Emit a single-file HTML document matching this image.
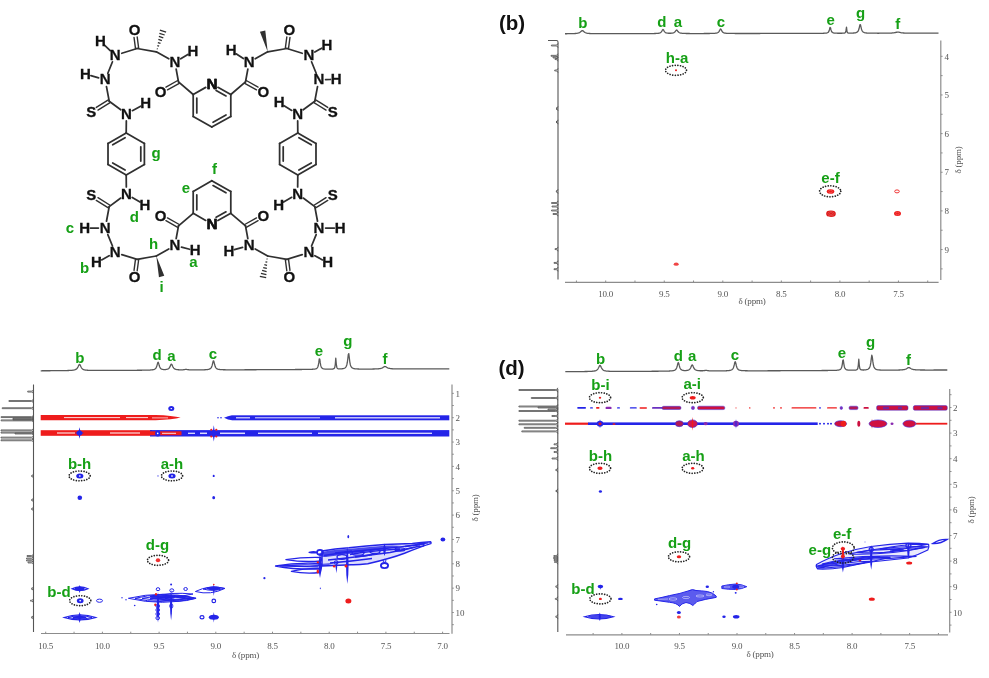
<!DOCTYPE html>
<html><head><meta charset="utf-8"><style>
html,body{margin:0;padding:0;background:#fff;}
svg{display:block;}
</style></head><body>
<svg width="989" height="678" viewBox="0 0 989 678">
<rect width="989" height="678" fill="#fff"/>
<g style="filter:blur(0.3px)">
<g stroke-linecap="round">
<line x1="126.2" y1="132.9" x2="144.39" y2="143.4" stroke="#303030" stroke-width="1.75" />
<line x1="144.39" y1="143.4" x2="144.39" y2="164.4" stroke="#303030" stroke-width="1.75" />
<line x1="140.79" y1="146.76" x2="140.79" y2="161.04" stroke="#303030" stroke-width="1.75" />
<line x1="144.39" y1="164.4" x2="126.2" y2="174.9" stroke="#303030" stroke-width="1.75" />
<line x1="126.2" y1="174.9" x2="108.01" y2="164.4" stroke="#303030" stroke-width="1.75" />
<line x1="125.09" y1="170.1" x2="112.72" y2="162.96" stroke="#303030" stroke-width="1.75" />
<line x1="108.01" y1="164.4" x2="108.01" y2="143.4" stroke="#303030" stroke-width="1.75" />
<line x1="108.01" y1="143.4" x2="126.2" y2="132.9" stroke="#303030" stroke-width="1.75" />
<line x1="112.72" y1="144.84" x2="125.09" y2="137.7" stroke="#303030" stroke-width="1.75" />
<line x1="297.8" y1="132.9" x2="315.99" y2="143.4" stroke="#303030" stroke-width="1.75" />
<line x1="298.91" y1="137.7" x2="311.28" y2="144.84" stroke="#303030" stroke-width="1.75" />
<line x1="315.99" y1="143.4" x2="315.99" y2="164.4" stroke="#303030" stroke-width="1.75" />
<line x1="315.99" y1="164.4" x2="297.8" y2="174.9" stroke="#303030" stroke-width="1.75" />
<line x1="311.28" y1="162.96" x2="298.91" y2="170.1" stroke="#303030" stroke-width="1.75" />
<line x1="297.8" y1="174.9" x2="279.61" y2="164.4" stroke="#303030" stroke-width="1.75" />
<line x1="279.61" y1="164.4" x2="279.61" y2="143.4" stroke="#303030" stroke-width="1.75" />
<line x1="283.21" y1="161.04" x2="283.21" y2="146.76" stroke="#303030" stroke-width="1.75" />
<line x1="279.61" y1="143.4" x2="297.8" y2="132.9" stroke="#303030" stroke-width="1.75" />
<line x1="217.91" y1="87.31" x2="230.8" y2="94.5" stroke="#303030" stroke-width="1.75" />
<line x1="216.13" y1="90.44" x2="226.01" y2="95.95" stroke="#303030" stroke-width="1.75" />
<line x1="230.8" y1="94.5" x2="230.8" y2="116.4" stroke="#303030" stroke-width="1.75" />
<line x1="230.8" y1="116.4" x2="211.8" y2="127.1" stroke="#303030" stroke-width="1.75" />
<line x1="225.99" y1="114.98" x2="213.07" y2="122.25" stroke="#303030" stroke-width="1.75" />
<line x1="211.8" y1="127.1" x2="193.2" y2="116.4" stroke="#303030" stroke-width="1.75" />
<line x1="193.2" y1="116.4" x2="193.2" y2="94.5" stroke="#303030" stroke-width="1.75" />
<line x1="196.8" y1="112.9" x2="196.8" y2="98" stroke="#303030" stroke-width="1.75" />
<line x1="193.2" y1="94.5" x2="205.72" y2="87.37" stroke="#303030" stroke-width="1.75" />
<line x1="211.8" y1="180.7" x2="230.8" y2="191.4" stroke="#303030" stroke-width="1.75" />
<line x1="213.07" y1="185.55" x2="225.99" y2="192.82" stroke="#303030" stroke-width="1.75" />
<line x1="230.8" y1="191.4" x2="230.8" y2="213.3" stroke="#303030" stroke-width="1.75" />
<line x1="230.8" y1="213.3" x2="217.91" y2="220.49" stroke="#303030" stroke-width="1.75" />
<line x1="226.01" y1="211.85" x2="216.13" y2="217.36" stroke="#303030" stroke-width="1.75" />
<line x1="205.72" y1="220.43" x2="193.2" y2="213.3" stroke="#303030" stroke-width="1.75" />
<line x1="193.2" y1="213.3" x2="193.2" y2="191.4" stroke="#303030" stroke-width="1.75" />
<line x1="196.8" y1="209.8" x2="196.8" y2="194.9" stroke="#303030" stroke-width="1.75" />
<line x1="193.2" y1="191.4" x2="211.8" y2="180.7" stroke="#303030" stroke-width="1.75" />
<line x1="134.03" y1="37.45" x2="135.51" y2="48.71" stroke="#303030" stroke-width="1.4" />
<line x1="137.2" y1="37.03" x2="138.69" y2="48.29" stroke="#303030" stroke-width="1.4" />
<line x1="137.1" y1="48.5" x2="121.79" y2="53.23" stroke="#303030" stroke-width="1.75" />
<line x1="112.47" y1="61.79" x2="107.83" y2="73.21" stroke="#303030" stroke-width="1.75" />
<line x1="106.48" y1="86.58" x2="109.2" y2="101.2" stroke="#303030" stroke-width="1.75" />
<line x1="108.35" y1="99.84" x2="96.28" y2="107.42" stroke="#303030" stroke-width="1.4" />
<line x1="110.05" y1="102.56" x2="97.98" y2="110.13" stroke="#303030" stroke-width="1.4" />
<line x1="109.2" y1="101.2" x2="120.77" y2="109.74" stroke="#303030" stroke-width="1.75" />
<line x1="137.1" y1="48.5" x2="156.3" y2="51.8" stroke="#303030" stroke-width="1.75" />
<line x1="156.3" y1="51.8" x2="168.8" y2="58.86" stroke="#303030" stroke-width="1.75" />
<line x1="176.16" y1="69.18" x2="178.5" y2="81.9" stroke="#303030" stroke-width="1.75" />
<line x1="177.72" y1="80.5" x2="165.93" y2="87.09" stroke="#303030" stroke-width="1.4" />
<line x1="179.28" y1="83.3" x2="167.49" y2="89.88" stroke="#303030" stroke-width="1.4" />
<line x1="178.5" y1="81.9" x2="193.2" y2="94.5" stroke="#303030" stroke-width="1.75" />
<line x1="286.8" y1="37.03" x2="285.31" y2="48.29" stroke="#303030" stroke-width="1.4" />
<line x1="289.97" y1="37.45" x2="288.49" y2="48.71" stroke="#303030" stroke-width="1.4" />
<line x1="286.9" y1="48.5" x2="302.21" y2="53.23" stroke="#303030" stroke-width="1.75" />
<line x1="311.53" y1="61.79" x2="316.17" y2="73.21" stroke="#303030" stroke-width="1.75" />
<line x1="317.52" y1="86.58" x2="314.8" y2="101.2" stroke="#303030" stroke-width="1.75" />
<line x1="313.95" y1="102.56" x2="326.02" y2="110.13" stroke="#303030" stroke-width="1.4" />
<line x1="315.65" y1="99.84" x2="327.72" y2="107.42" stroke="#303030" stroke-width="1.4" />
<line x1="314.8" y1="101.2" x2="303.23" y2="109.74" stroke="#303030" stroke-width="1.75" />
<line x1="286.9" y1="48.5" x2="267.7" y2="51.8" stroke="#303030" stroke-width="1.75" />
<line x1="267.7" y1="51.8" x2="255.2" y2="58.86" stroke="#303030" stroke-width="1.75" />
<line x1="247.84" y1="69.18" x2="245.5" y2="81.9" stroke="#303030" stroke-width="1.75" />
<line x1="244.72" y1="83.3" x2="256.51" y2="89.88" stroke="#303030" stroke-width="1.4" />
<line x1="246.28" y1="80.5" x2="258.07" y2="87.09" stroke="#303030" stroke-width="1.4" />
<line x1="245.5" y1="81.9" x2="230.8" y2="94.5" stroke="#303030" stroke-width="1.75" />
<line x1="137.2" y1="270.77" x2="138.69" y2="259.51" stroke="#303030" stroke-width="1.4" />
<line x1="134.03" y1="270.35" x2="135.51" y2="259.09" stroke="#303030" stroke-width="1.4" />
<line x1="137.1" y1="259.3" x2="121.79" y2="254.57" stroke="#303030" stroke-width="1.75" />
<line x1="112.47" y1="246.01" x2="107.83" y2="234.59" stroke="#303030" stroke-width="1.75" />
<line x1="106.48" y1="221.22" x2="109.2" y2="206.6" stroke="#303030" stroke-width="1.75" />
<line x1="110.05" y1="205.24" x2="97.98" y2="197.67" stroke="#303030" stroke-width="1.4" />
<line x1="108.35" y1="207.96" x2="96.28" y2="200.38" stroke="#303030" stroke-width="1.4" />
<line x1="109.2" y1="206.6" x2="120.77" y2="198.06" stroke="#303030" stroke-width="1.75" />
<line x1="137.1" y1="259.3" x2="156.3" y2="256" stroke="#303030" stroke-width="1.75" />
<line x1="156.3" y1="256" x2="168.8" y2="248.94" stroke="#303030" stroke-width="1.75" />
<line x1="176.16" y1="238.62" x2="178.5" y2="225.9" stroke="#303030" stroke-width="1.75" />
<line x1="179.28" y1="224.5" x2="167.49" y2="217.92" stroke="#303030" stroke-width="1.4" />
<line x1="177.72" y1="227.3" x2="165.93" y2="220.71" stroke="#303030" stroke-width="1.4" />
<line x1="178.5" y1="225.9" x2="193.2" y2="213.3" stroke="#303030" stroke-width="1.75" />
<line x1="289.97" y1="270.35" x2="288.49" y2="259.09" stroke="#303030" stroke-width="1.4" />
<line x1="286.8" y1="270.77" x2="285.31" y2="259.51" stroke="#303030" stroke-width="1.4" />
<line x1="286.9" y1="259.3" x2="302.21" y2="254.57" stroke="#303030" stroke-width="1.75" />
<line x1="311.53" y1="246.01" x2="316.17" y2="234.59" stroke="#303030" stroke-width="1.75" />
<line x1="317.52" y1="221.22" x2="314.8" y2="206.6" stroke="#303030" stroke-width="1.75" />
<line x1="315.65" y1="207.96" x2="327.72" y2="200.38" stroke="#303030" stroke-width="1.4" />
<line x1="313.95" y1="205.24" x2="326.02" y2="197.67" stroke="#303030" stroke-width="1.4" />
<line x1="314.8" y1="206.6" x2="303.23" y2="198.06" stroke="#303030" stroke-width="1.75" />
<line x1="286.9" y1="259.3" x2="267.7" y2="256" stroke="#303030" stroke-width="1.75" />
<line x1="267.7" y1="256" x2="255.2" y2="248.94" stroke="#303030" stroke-width="1.75" />
<line x1="247.84" y1="238.62" x2="245.5" y2="225.9" stroke="#303030" stroke-width="1.75" />
<line x1="246.28" y1="227.3" x2="258.07" y2="220.71" stroke="#303030" stroke-width="1.4" />
<line x1="244.72" y1="224.5" x2="256.51" y2="217.92" stroke="#303030" stroke-width="1.4" />
<line x1="245.5" y1="225.9" x2="230.8" y2="213.3" stroke="#303030" stroke-width="1.75" />
<line x1="126.33" y1="120.9" x2="126.2" y2="132.9" stroke="#303030" stroke-width="1.75" />
<line x1="126.33" y1="186.9" x2="126.2" y2="174.9" stroke="#303030" stroke-width="1.75" />
<line x1="297.67" y1="120.9" x2="297.8" y2="132.9" stroke="#303030" stroke-width="1.75" />
<line x1="297.67" y1="186.9" x2="297.8" y2="174.9" stroke="#303030" stroke-width="1.75" />
<line x1="110.21" y1="50.57" x2="104.47" y2="45.03" stroke="#303030" stroke-width="1.75" />
<line x1="98.66" y1="77.83" x2="90.88" y2="75.6" stroke="#303030" stroke-width="1.75" />
<line x1="132.37" y1="110.65" x2="140.61" y2="106.17" stroke="#303030" stroke-width="1.75" />
<line x1="180.71" y1="58.76" x2="187.85" y2="54.42" stroke="#303030" stroke-width="1.75" />
<line x1="243.39" y1="58.6" x2="236.07" y2="53.85" stroke="#303030" stroke-width="1.75" />
<line x1="314.85" y1="52.01" x2="321.72" y2="48.21" stroke="#303030" stroke-width="1.75" />
<line x1="325.6" y1="79.58" x2="330.4" y2="79.5" stroke="#303030" stroke-width="1.75" />
<line x1="291.77" y1="110.4" x2="284.07" y2="105.78" stroke="#303030" stroke-width="1.75" />
<line x1="109.14" y1="255.77" x2="101.59" y2="259.91" stroke="#303030" stroke-width="1.75" />
<line x1="98.4" y1="228.1" x2="90.4" y2="228.1" stroke="#303030" stroke-width="1.75" />
<line x1="132.23" y1="197.41" x2="140.03" y2="202.11" stroke="#303030" stroke-width="1.75" />
<line x1="181.49" y1="247.19" x2="189.58" y2="249.26" stroke="#303030" stroke-width="1.75" />
<line x1="314.87" y1="255.76" x2="322.51" y2="259.92" stroke="#303030" stroke-width="1.75" />
<line x1="325.6" y1="228.1" x2="334.4" y2="228.1" stroke="#303030" stroke-width="1.75" />
<line x1="291.72" y1="197.31" x2="283.62" y2="201.99" stroke="#303030" stroke-width="1.75" />
<line x1="242.56" y1="247.37" x2="234.38" y2="249.71" stroke="#303030" stroke-width="1.75" />
<line x1="156.82" y1="48.71" x2="157.7" y2="49" stroke="#303030" stroke-width="1.3" stroke-linecap="butt"/>
<line x1="157.33" y1="45.63" x2="159.1" y2="46.2" stroke="#303030" stroke-width="1.3" stroke-linecap="butt"/>
<line x1="157.85" y1="42.54" x2="160.5" y2="43.4" stroke="#303030" stroke-width="1.3" stroke-linecap="butt"/>
<line x1="158.36" y1="39.45" x2="161.89" y2="40.6" stroke="#303030" stroke-width="1.3" stroke-linecap="butt"/>
<line x1="158.88" y1="36.37" x2="163.29" y2="37.8" stroke="#303030" stroke-width="1.3" stroke-linecap="butt"/>
<line x1="159.39" y1="33.28" x2="164.69" y2="35" stroke="#303030" stroke-width="1.3" stroke-linecap="butt"/>
<line x1="159.91" y1="30.19" x2="166.09" y2="32.21" stroke="#303030" stroke-width="1.3" stroke-linecap="butt"/>
<polygon points="267.7,51.8 265.27,30.54 259.93,31.86" fill="#303030"/>
<polygon points="156.3,256 158.94,277.19 164.26,275.81" fill="#303030"/>
<line x1="267.48" y1="259.1" x2="266.58" y2="258.9" stroke="#303030" stroke-width="1.3" stroke-linecap="butt"/>
<line x1="267.26" y1="262.2" x2="265.45" y2="261.8" stroke="#303030" stroke-width="1.3" stroke-linecap="butt"/>
<line x1="267.04" y1="265.3" x2="264.33" y2="264.7" stroke="#303030" stroke-width="1.3" stroke-linecap="butt"/>
<line x1="266.83" y1="268.41" x2="263.2" y2="267.59" stroke="#303030" stroke-width="1.3" stroke-linecap="butt"/>
<line x1="266.61" y1="271.51" x2="262.08" y2="270.49" stroke="#303030" stroke-width="1.3" stroke-linecap="butt"/>
<line x1="266.39" y1="274.61" x2="260.95" y2="273.39" stroke="#303030" stroke-width="1.3" stroke-linecap="butt"/>
<line x1="266.17" y1="277.71" x2="259.83" y2="276.29" stroke="#303030" stroke-width="1.3" stroke-linecap="butt"/>
</g>
<g font-family="Liberation Sans, sans-serif" font-weight="bold" font-size="15" fill="#111" stroke="#111" stroke-width="0.3" text-anchor="middle">
<text x="134.7" y="34.9">O</text>
<text x="289.3" y="34.9">O</text>
<text x="134.7" y="282.1">O</text>
<text x="289.3" y="282.1">O</text>
<text x="115.1" y="59.9">N</text>
<text x="308.9" y="59.9">N</text>
<text x="115.1" y="257.1">N</text>
<text x="308.9" y="257.1">N</text>
<text x="105.2" y="84.3">N</text>
<text x="318.8" y="84.3">N</text>
<text x="105.2" y="232.7">N</text>
<text x="318.8" y="232.7">N</text>
<text x="91.2" y="117.1">S</text>
<text x="332.8" y="117.1">S</text>
<text x="91.2" y="199.9">S</text>
<text x="332.8" y="199.9">S</text>
<text x="126.4" y="118.5">N</text>
<text x="297.6" y="118.5">N</text>
<text x="126.4" y="198.5">N</text>
<text x="297.6" y="198.5">N</text>
<text x="174.9" y="66.9">N</text>
<text x="249.1" y="66.9">N</text>
<text x="174.9" y="250.1">N</text>
<text x="249.1" y="250.1">N</text>
<text x="160.6" y="96.5">O</text>
<text x="263.4" y="96.5">O</text>
<text x="160.6" y="220.5">O</text>
<text x="263.4" y="220.5">O</text>
<text x="211.8" y="88.5">N</text>
<text x="212.2" y="88.5">N</text>
<text x="211.8" y="228.5">N</text>
<text x="212.2" y="228.5">N</text>
<text x="100.3" y="45.6">H</text>
<text x="85.3" y="78.6">H</text>
<text x="145.7" y="108">H</text>
<text x="192.8" y="56">H</text>
<text x="231.2" y="55.3">H</text>
<text x="326.8" y="50">H</text>
<text x="336.2" y="84">H</text>
<text x="279.1" y="107.4">H</text>
<text x="96.5" y="267.3">H</text>
<text x="84.6" y="232.7">H</text>
<text x="145" y="209.7">H</text>
<text x="195.2" y="255.3">H</text>
<text x="327.6" y="267.3">H</text>
<text x="340.2" y="232.7">H</text>
<text x="278.6" y="209.5">H</text>
<text x="228.8" y="255.9">H</text>
</g>
<g font-family="Liberation Sans, sans-serif" font-weight="bold" font-size="15" fill="#16a016" text-anchor="middle">
<text x="156" y="157.6">g</text>
<text x="185.9" y="193.1">e</text>
<text x="214.4" y="173.8">f</text>
<text x="134.3" y="222.3">d</text>
<text x="70" y="233.1">c</text>
<text x="153.5" y="249.1">h</text>
<text x="84.6" y="273">b</text>
<text x="193.5" y="267.4">a</text>
<text x="161.6" y="291.5">i</text>
</g>
<text x="512" y="30" font-family="Liberation Sans, sans-serif" font-weight="bold" font-size="20.5" fill="#111" text-anchor="middle">(b)</text>
<polyline points="565,33.75 565.5,33.74 566,33.74 566.5,33.73 567,33.73 567.5,33.72 568,33.72 568.5,33.71 569,33.71 569.5,33.7 570,33.69 570.5,33.68 571,33.67 571.5,33.66 572,33.65 572.5,33.63 573,33.61 573.5,33.6 574,33.57 574.5,33.55 575,33.51 575.5,33.48 576,33.43 576.5,33.38 577,33.31 577.5,33.22 578,33.11 578.5,32.97 579,32.79 579.5,32.55 580,32.24 580.5,31.86 581,31.4 581.5,30.94 582,30.63 582.5,30.59 583,30.86 583.5,31.3 584,31.76 584.5,32.17 585,32.49 585.5,32.74 586,32.93 586.5,33.07 587,33.19 587.5,33.27 588,33.34 588.5,33.4 589,33.45 589.5,33.48 590,33.51 590.5,33.54 591,33.56 591.5,33.58 592,33.6 592.5,33.61 593,33.62 593.5,33.63 594,33.64 594.5,33.65 595,33.65 595.5,33.66 596,33.67 596.5,33.67 597,33.67 597.5,33.68 598,33.68 598.5,33.68 599,33.69 599.5,33.69 600,33.69 600.5,33.69 601,33.69 601.5,33.7 602,33.7 602.5,33.7 603,33.7 603.5,33.7 604,33.7 604.5,33.7 605,33.7 605.5,33.7 606,33.7 606.5,33.7 607,33.7 607.5,33.7 608,33.7 608.5,33.7 609,33.7 609.5,33.7 610,33.7 610.5,33.7 611,33.7 611.5,33.7 612,33.7 612.5,33.7 613,33.7 613.5,33.7 614,33.7 614.5,33.7 615,33.7 615.5,33.7 616,33.7 616.5,33.7 617,33.7 617.5,33.7 618,33.69 618.5,33.69 619,33.69 619.5,33.69 620,33.69 620.5,33.69 621,33.69 621.5,33.69 622,33.69 622.5,33.69 623,33.69 623.5,33.69 624,33.69 624.5,33.69 625,33.68 625.5,33.68 626,33.68 626.5,33.68 627,33.68 627.5,33.68 628,33.68 628.5,33.68 629,33.68 629.5,33.68 630,33.68 630.5,33.67 631,33.67 631.5,33.67 632,33.67 632.5,33.67 633,33.67 633.5,33.67 634,33.67 634.5,33.67 635,33.66 635.5,33.66 636,33.66 636.5,33.66 637,33.66 637.5,33.66 638,33.66 638.5,33.66 639,33.65 639.5,33.65 640,33.65 640.5,33.65 641,33.65 641.5,33.65 642,33.64 642.5,33.64 643,33.64 643.5,33.64 644,33.64 644.5,33.63 645,33.63 645.5,33.63 646,33.63 646.5,33.62 647,33.62 647.5,33.62 648,33.61 648.5,33.61 649,33.61 649.5,33.6 650,33.6 650.5,33.59 651,33.59 651.5,33.58 652,33.57 652.5,33.56 653,33.56 653.5,33.55 654,33.53 654.5,33.52 655,33.51 655.5,33.49 656,33.46 656.5,33.44 657,33.41 657.5,33.37 658,33.31 658.5,33.25 659,33.16 659.5,33.03 660,32.86 660.5,32.6 661,32.22 661.5,31.64 662,30.81 662.5,29.87 663,29.39 663.5,29.86 664,30.8 664.5,31.62 665,32.19 665.5,32.56 666,32.8 666.5,32.96 667,33.07 667.5,33.15 668,33.2 668.5,33.24 669,33.26 669.5,33.27 670,33.26 670.5,33.25 671,33.23 671.5,33.19 672,33.13 672.5,33.06 673,32.95 673.5,32.79 674,32.56 674.5,32.23 675,31.76 675.5,31.12 676,30.41 676.5,29.98 677,30.18 677.5,30.84 678,31.54 678.5,32.08 679,32.47 679.5,32.74 680,32.93 680.5,33.06 681,33.16 681.5,33.23 682,33.29 682.5,33.33 683,33.37 683.5,33.4 684,33.42 684.5,33.44 685,33.45 685.5,33.47 686,33.48 686.5,33.49 687,33.5 687.5,33.5 688,33.51 688.5,33.51 689,33.52 689.5,33.52 690,33.53 690.5,33.53 691,33.53 691.5,33.53 692,33.53 692.5,33.54 693,33.54 693.5,33.54 694,33.54 694.5,33.54 695,33.54 695.5,33.54 696,33.54 696.5,33.54 697,33.54 697.5,33.54 698,33.54 698.5,33.54 699,33.54 699.5,33.54 700,33.54 700.5,33.54 701,33.53 701.5,33.53 702,33.53 702.5,33.53 703,33.53 703.5,33.53 704,33.52 704.5,33.52 705,33.52 705.5,33.52 706,33.51 706.5,33.51 707,33.51 707.5,33.5 708,33.5 708.5,33.49 709,33.49 709.5,33.48 710,33.47 710.5,33.47 711,33.46 711.5,33.45 712,33.43 712.5,33.42 713,33.4 713.5,33.38 714,33.35 714.5,33.32 715,33.28 715.5,33.22 716,33.16 716.5,33.07 717,32.94 717.5,32.77 718,32.51 718.5,32.13 719,31.55 719.5,30.7 720,29.66 720.5,28.96 721,29.29 721.5,30.28 722,31.24 722.5,31.92 723,32.37 723.5,32.67 724,32.87 724.5,33.01 725,33.11 725.5,33.19 726,33.24 726.5,33.29 727,33.32 727.5,33.35 728,33.37 728.5,33.39 729,33.4 729.5,33.42 730,33.43 730.5,33.44 731,33.44 731.5,33.45 732,33.46 732.5,33.46 733,33.47 733.5,33.47 734,33.47 734.5,33.47 735,33.48 735.5,33.48 736,33.48 736.5,33.48 737,33.48 737.5,33.48 738,33.49 738.5,33.49 739,33.49 739.5,33.49 740,33.49 740.5,33.49 741,33.49 741.5,33.49 742,33.49 742.5,33.49 743,33.49 743.5,33.49 744,33.49 744.5,33.49 745,33.49 745.5,33.49 746,33.49 746.5,33.49 747,33.49 747.5,33.49 748,33.49 748.5,33.49 749,33.49 749.5,33.49 750,33.49 750.5,33.49 751,33.49 751.5,33.49 752,33.48 752.5,33.48 753,33.48 753.5,33.48 754,33.48 754.5,33.48 755,33.48 755.5,33.48 756,33.48 756.5,33.48 757,33.48 757.5,33.48 758,33.48 758.5,33.48 759,33.48 759.5,33.48 760,33.48 760.5,33.47 761,33.47 761.5,33.47 762,33.47 762.5,33.47 763,33.47 763.5,33.47 764,33.47 764.5,33.47 765,33.47 765.5,33.47 766,33.47 766.5,33.47 767,33.47 767.5,33.46 768,33.46 768.5,33.46 769,33.46 769.5,33.46 770,33.46 770.5,33.46 771,33.46 771.5,33.46 772,33.46 772.5,33.46 773,33.46 773.5,33.46 774,33.45 774.5,33.45 775,33.45 775.5,33.45 776,33.45 776.5,33.45 777,33.45 777.5,33.45 778,33.45 778.5,33.45 779,33.45 779.5,33.45 780,33.45 780.5,33.44 781,33.44 781.5,33.44 782,33.44 782.5,33.44 783,33.44 783.5,33.44 784,33.44 784.5,33.44 785,33.44 785.5,33.44 786,33.44 786.5,33.43 787,33.43 787.5,33.43 788,33.43 788.5,33.43 789,33.43 789.5,33.43 790,33.43 790.5,33.43 791,33.43 791.5,33.43 792,33.42 792.5,33.42 793,33.42 793.5,33.42 794,33.42 794.5,33.42 795,33.42 795.5,33.42 796,33.42 796.5,33.42 797,33.42 797.5,33.41 798,33.41 798.5,33.41 799,33.41 799.5,33.41 800,33.41 800.5,33.41 801,33.41 801.5,33.41 802,33.4 802.5,33.4 803,33.4 803.5,33.4 804,33.4 804.5,33.4 805,33.4 805.5,33.4 806,33.4 806.5,33.39 807,33.39 807.5,33.39 808,33.39 808.5,33.39 809,33.39 809.5,33.39 810,33.38 810.5,33.38 811,33.38 811.5,33.38 812,33.38 812.5,33.38 813,33.37 813.5,33.37 814,33.37 814.5,33.37 815,33.37 815.5,33.36 816,33.36 816.5,33.36 817,33.35 817.5,33.35 818,33.35 818.5,33.34 819,33.34 819.5,33.33 820,33.33 820.5,33.32 821,33.32 821.5,33.31 822,33.3 822.5,33.29 823,33.28 823.5,33.26 824,33.24 824.5,33.22 825,33.19 825.5,33.15 826,33.09 826.5,33.02 827,32.91 827.5,32.74 828,32.47 828.5,32 829,31.12 829.5,29.49 830,27.44 830.5,27.77 831,29.89 831.5,31.34 832,32.11 832.5,32.52 833,32.76 833.5,32.91 834,33.01 834.5,33.08 835,33.12 835.5,33.16 836,33.18 836.5,33.2 837,33.22 837.5,33.23 838,33.24 838.5,33.24 839,33.25 839.5,33.25 840,33.25 840.5,33.25 841,33.25 841.5,33.24 842,33.23 842.5,33.22 843,33.21 843.5,33.18 844,33.13 844.5,33.05 845,32.88 845.5,32.4 846,30.4 846.5,27.15 847,31.57 847.5,32.64 848,32.94 848.5,33.05 849,33.1 849.5,33.13 850,33.14 850.5,33.14 851,33.13 851.5,33.12 852,33.11 852.5,33.09 853,33.06 853.5,33.02 854,32.98 854.5,32.93 855,32.85 855.5,32.76 856,32.63 856.5,32.45 857,32.2 857.5,31.82 858,31.25 858.5,30.32 859,28.81 859.5,26.59 860,24.55 860.5,24.84 861,27.08 861.5,29.17 862,30.54 862.5,31.38 863,31.91 863.5,32.25 864,32.49 864.5,32.65 865,32.77 865.5,32.86 866,32.93 866.5,32.98 867,33.03 867.5,33.06 868,33.09 868.5,33.11 869,33.13 869.5,33.14 870,33.16 870.5,33.17 871,33.18 871.5,33.19 872,33.19 872.5,33.2 873,33.2 873.5,33.21 874,33.21 874.5,33.22 875,33.22 875.5,33.22 876,33.22 876.5,33.22 877,33.22 877.5,33.23 878,33.23 878.5,33.23 879,33.23 879.5,33.22 880,33.22 880.5,33.22 881,33.22 881.5,33.22 882,33.22 882.5,33.22 883,33.21 883.5,33.21 884,33.21 884.5,33.2 885,33.2 885.5,33.19 886,33.19 886.5,33.18 887,33.18 887.5,33.17 888,33.16 888.5,33.15 889,33.14 889.5,33.12 890,33.11 890.5,33.09 891,33.06 891.5,33.04 892,33.01 892.5,32.97 893,32.92 893.5,32.87 894,32.8 894.5,32.71 895,32.62 895.5,32.5 896,32.37 896.5,32.25 897,32.13 897.5,32.07 898,32.06 898.5,32.12 899,32.22 899.5,32.34 900,32.47 900.5,32.59 901,32.69 901.5,32.77 902,32.84 902.5,32.9 903,32.95 903.5,32.99 904,33.02 904.5,33.05 905,33.07 905.5,33.09 906,33.1 906.5,33.12 907,33.13 907.5,33.14 908,33.15 908.5,33.15 909,33.16 909.5,33.17 910,33.17 910.5,33.17 911,33.18 911.5,33.18 912,33.18 912.5,33.19 913,33.19 913.5,33.19 914,33.19 914.5,33.2 915,33.2 915.5,33.2 916,33.2 916.5,33.2 917,33.2 917.5,33.2 918,33.2 918.5,33.2 919,33.2 919.5,33.2 920,33.2 920.5,33.2 921,33.2 921.5,33.2 922,33.2 922.5,33.2 923,33.2 923.5,33.2 924,33.2 924.5,33.2 925,33.2 925.5,33.2 926,33.2 926.5,33.2 927,33.2 927.5,33.2 928,33.2 928.5,33.2 929,33.2 929.5,33.2 930,33.2 930.5,33.2 931,33.2 931.5,33.2 932,33.2 932.5,33.2 933,33.2 933.5,33.2 934,33.2 934.5,33.19 935,33.19 935.5,33.19 936,33.19 936.5,33.19 937,33.19 937.5,33.19 938,33.19 938.5,33.19" fill="none" stroke="#5a5a5a" stroke-width="1.3" stroke-linejoin="round"/>
<text x="582.8" y="28.4" font-family="Liberation Sans, sans-serif" font-weight="bold" font-size="15" fill="#16a016" text-anchor="middle">b</text>
<text x="661.8" y="27.4" font-family="Liberation Sans, sans-serif" font-weight="bold" font-size="15" fill="#16a016" text-anchor="middle">d</text>
<text x="678" y="26.6" font-family="Liberation Sans, sans-serif" font-weight="bold" font-size="15" fill="#16a016" text-anchor="middle">a</text>
<text x="720.8" y="26.6" font-family="Liberation Sans, sans-serif" font-weight="bold" font-size="15" fill="#16a016" text-anchor="middle">c</text>
<text x="830.6" y="24.7" font-family="Liberation Sans, sans-serif" font-weight="bold" font-size="15" fill="#16a016" text-anchor="middle">e</text>
<text x="860.7" y="18.12" font-family="Liberation Sans, sans-serif" font-weight="bold" font-size="15" fill="#16a016" text-anchor="middle">g</text>
<text x="897.8" y="29.2" font-family="Liberation Sans, sans-serif" font-weight="bold" font-size="15" fill="#16a016" text-anchor="middle">f</text>
<path d="M548,40.5 L556.5,40.5 Q558,40.5 558,42 L558,279.5" fill="none" stroke="#555" stroke-width="1.1"/>
<path d="M558,43.3 Q558,45.05 556,45.05 L551.4,45.05 L551.4,45.95 L556,45.95 Q558,45.95 558,47.7" fill="none" stroke="#555" stroke-width="0.85"/>
<path d="M558,53.6 Q558,55.35 556,55.35 L551,55.35 L551,56.25 L556,56.25 Q558,56.25 558,58" fill="none" stroke="#555" stroke-width="0.85"/>
<path d="M558,55.3 Q558,57.05 556,57.05 L553,57.05 L553,57.95 L556,57.95 Q558,57.95 558,59.7" fill="none" stroke="#555" stroke-width="0.85"/>
<path d="M558,56.9 Q558,58.65 556,58.65 L555,58.65 L555,59.55 L556,59.55 Q558,59.55 558,61.3" fill="none" stroke="#555" stroke-width="0.85"/>
<path d="M558,68.3 Q558,70.05 556,70.05 L554.7,70.05 L554.7,70.95 L556,70.95 Q558,70.95 558,72.7" fill="none" stroke="#555" stroke-width="0.85"/>
<path d="M558,106.4 Q558,108.15 556,108.15 L557,108.15 L557,109.05 L556,109.05 Q558,109.05 558,110.8" fill="none" stroke="#555" stroke-width="0.85"/>
<path d="M558,119.8 Q558,121.55 556,121.55 L557,121.55 L557,122.45 L556,122.45 Q558,122.45 558,124.2" fill="none" stroke="#555" stroke-width="0.85"/>
<path d="M558,189.2 Q558,190.95 556,190.95 L556.3,190.95 L556.3,191.85 L556,191.85 Q558,191.85 558,193.6" fill="none" stroke="#555" stroke-width="0.85"/>
<path d="M558,200.8 Q558,202.55 556,202.55 L551.5,202.55 L551.5,203.45 L556,203.45 Q558,203.45 558,205.2" fill="none" stroke="#555" stroke-width="0.85"/>
<path d="M558,204.3 Q558,206.05 556,206.05 L552,206.05 L552,206.95 L556,206.95 Q558,206.95 558,208.7" fill="none" stroke="#555" stroke-width="0.85"/>
<path d="M558,208.3 Q558,210.05 556,210.05 L551.5,210.05 L551.5,210.95 L556,210.95 Q558,210.95 558,212.7" fill="none" stroke="#555" stroke-width="0.85"/>
<path d="M558,211.8 Q558,213.55 556,213.55 L553,213.55 L553,214.45 L556,214.45 Q558,214.45 558,216.2" fill="none" stroke="#555" stroke-width="0.85"/>
<path d="M558,246.9 Q558,248.65 556,248.65 L555,248.65 L555,249.55 L556,249.55 Q558,249.55 558,251.3" fill="none" stroke="#555" stroke-width="0.85"/>
<path d="M558,260.7 Q558,262.45 556,262.45 L554,262.45 L554,263.35 L556,263.35 Q558,263.35 558,265.1" fill="none" stroke="#555" stroke-width="0.85"/>
<path d="M558,267 Q558,268.75 556,268.75 L554,268.75 L554,269.65 L556,269.65 Q558,269.65 558,271.4" fill="none" stroke="#555" stroke-width="0.85"/>
<line x1="565" y1="282.3" x2="938.6" y2="282.3" stroke="#8c8c8c" stroke-width="1.2"/>
<line x1="576.43" y1="280.5" x2="576.43" y2="282.3" stroke="#8c8c8c" stroke-width="1"/>
<line x1="605.7" y1="280.5" x2="605.7" y2="282.3" stroke="#8c8c8c" stroke-width="1"/>
<line x1="634.98" y1="280.5" x2="634.98" y2="282.3" stroke="#8c8c8c" stroke-width="1"/>
<line x1="664.25" y1="280.5" x2="664.25" y2="282.3" stroke="#8c8c8c" stroke-width="1"/>
<line x1="693.53" y1="280.5" x2="693.53" y2="282.3" stroke="#8c8c8c" stroke-width="1"/>
<line x1="722.8" y1="280.5" x2="722.8" y2="282.3" stroke="#8c8c8c" stroke-width="1"/>
<line x1="752.08" y1="280.5" x2="752.08" y2="282.3" stroke="#8c8c8c" stroke-width="1"/>
<line x1="781.35" y1="280.5" x2="781.35" y2="282.3" stroke="#8c8c8c" stroke-width="1"/>
<line x1="810.62" y1="280.5" x2="810.62" y2="282.3" stroke="#8c8c8c" stroke-width="1"/>
<line x1="839.9" y1="280.5" x2="839.9" y2="282.3" stroke="#8c8c8c" stroke-width="1"/>
<line x1="869.17" y1="280.5" x2="869.17" y2="282.3" stroke="#8c8c8c" stroke-width="1"/>
<line x1="898.45" y1="280.5" x2="898.45" y2="282.3" stroke="#8c8c8c" stroke-width="1"/>
<line x1="927.73" y1="280.5" x2="927.73" y2="282.3" stroke="#8c8c8c" stroke-width="1"/>
<text x="605.7" y="296.5" font-family="Liberation Serif, serif" font-size="9" fill="#555" letter-spacing="-0.25" text-anchor="middle">10.0</text>
<text x="664.25" y="296.5" font-family="Liberation Serif, serif" font-size="9" fill="#555" letter-spacing="-0.25" text-anchor="middle">9.5</text>
<text x="722.8" y="296.5" font-family="Liberation Serif, serif" font-size="9" fill="#555" letter-spacing="-0.25" text-anchor="middle">9.0</text>
<text x="781.35" y="296.5" font-family="Liberation Serif, serif" font-size="9" fill="#555" letter-spacing="-0.25" text-anchor="middle">8.5</text>
<text x="839.9" y="296.5" font-family="Liberation Serif, serif" font-size="9" fill="#555" letter-spacing="-0.25" text-anchor="middle">8.0</text>
<text x="898.45" y="296.5" font-family="Liberation Serif, serif" font-size="9" fill="#555" letter-spacing="-0.25" text-anchor="middle">7.5</text>
<text x="752" y="303.5" font-family="Liberation Serif, serif" font-size="9" fill="#555" letter-spacing="-0.2" text-anchor="middle">δ (ppm)</text>
<line x1="940.8" y1="40.5" x2="940.8" y2="280" stroke="#8c8c8c" stroke-width="1.2"/>
<line x1="940.8" y1="56.3" x2="942.6" y2="56.3" stroke="#8c8c8c" stroke-width="1"/>
<line x1="940.8" y1="75.62" x2="942.6" y2="75.62" stroke="#8c8c8c" stroke-width="1"/>
<line x1="940.8" y1="94.95" x2="942.6" y2="94.95" stroke="#8c8c8c" stroke-width="1"/>
<line x1="940.8" y1="114.27" x2="942.6" y2="114.27" stroke="#8c8c8c" stroke-width="1"/>
<line x1="940.8" y1="133.6" x2="942.6" y2="133.6" stroke="#8c8c8c" stroke-width="1"/>
<line x1="940.8" y1="152.93" x2="942.6" y2="152.93" stroke="#8c8c8c" stroke-width="1"/>
<line x1="940.8" y1="172.25" x2="942.6" y2="172.25" stroke="#8c8c8c" stroke-width="1"/>
<line x1="940.8" y1="191.57" x2="942.6" y2="191.57" stroke="#8c8c8c" stroke-width="1"/>
<line x1="940.8" y1="210.9" x2="942.6" y2="210.9" stroke="#8c8c8c" stroke-width="1"/>
<line x1="940.8" y1="230.22" x2="942.6" y2="230.22" stroke="#8c8c8c" stroke-width="1"/>
<line x1="940.8" y1="249.55" x2="942.6" y2="249.55" stroke="#8c8c8c" stroke-width="1"/>
<line x1="940.8" y1="268.88" x2="942.6" y2="268.88" stroke="#8c8c8c" stroke-width="1"/>
<text x="944.5" y="59.5" font-family="Liberation Serif, serif" font-size="9" fill="#555">4</text>
<text x="944.5" y="98.15" font-family="Liberation Serif, serif" font-size="9" fill="#555">5</text>
<text x="944.5" y="136.8" font-family="Liberation Serif, serif" font-size="9" fill="#555">6</text>
<text x="944.5" y="175.45" font-family="Liberation Serif, serif" font-size="9" fill="#555">7</text>
<text x="944.5" y="214.1" font-family="Liberation Serif, serif" font-size="9" fill="#555">8</text>
<text x="944.5" y="252.75" font-family="Liberation Serif, serif" font-size="9" fill="#555">9</text>
<text transform="translate(961,160) rotate(-90)" font-family="Liberation Serif, serif" font-size="9" fill="#555" letter-spacing="-0.2" text-anchor="middle">δ (ppm)</text>
<text x="677" y="62.8" font-family="Liberation Sans, sans-serif" font-weight="bold" font-size="15" fill="#16a016" text-anchor="middle">h-a</text>
<ellipse cx="676" cy="70.3" rx="10.5" ry="5" fill="none" stroke="#222" stroke-width="1.7" stroke-linecap="round" stroke-dasharray="0.01 2.6"/>
<ellipse cx="676" cy="70.3" rx="1" ry="1" fill="#ee1c1c" opacity="1"/>
<text x="830.5" y="182.5" font-family="Liberation Sans, sans-serif" font-weight="bold" font-size="15" fill="#16a016" text-anchor="middle">e-f</text>
<ellipse cx="830.2" cy="191.3" rx="10.6" ry="5.5" fill="none" stroke="#222" stroke-width="1.7" stroke-linecap="round" stroke-dasharray="0.01 2.6"/>
<ellipse cx="830.5" cy="191.5" rx="3.8" ry="2.3" fill="#ee1c1c" opacity="1"/>
<ellipse cx="830.5" cy="191.5" rx="1.9" ry="1.15" fill="none" stroke="#fff" stroke-width="0.5" opacity="0.35"/>
<ellipse cx="831" cy="213.7" rx="4.8" ry="3.3" fill="#dd1515" opacity="1"/>
<ellipse cx="831" cy="213.7" rx="3.2" ry="2.2" fill="none" stroke="#fff" stroke-width="0.5" opacity="0.35"/>
<ellipse cx="831" cy="213.7" rx="1.6" ry="1.1" fill="none" stroke="#fff" stroke-width="0.5" opacity="0.35"/>
<ellipse cx="897" cy="191.4" rx="2.3" ry="1.5" fill="none" stroke="#ee1c1c" stroke-width="0.9"/>
<ellipse cx="897.5" cy="213.5" rx="3.5" ry="2.5" fill="#ee1c1c" opacity="1"/>
<ellipse cx="897.5" cy="213.5" rx="1.75" ry="1.25" fill="none" stroke="#fff" stroke-width="0.5" opacity="0.35"/>
<ellipse cx="676.2" cy="264.2" rx="2.5" ry="1.6" fill="#f04545" opacity="1"/>
<polyline points="40.7,370.78 41.2,370.78 41.7,370.78 42.2,370.77 42.7,370.77 43.2,370.77 43.7,370.77 44.2,370.76 44.7,370.76 45.2,370.76 45.7,370.75 46.2,370.75 46.7,370.75 47.2,370.75 47.7,370.74 48.2,370.74 48.7,370.74 49.2,370.73 49.7,370.73 50.2,370.73 50.7,370.72 51.2,370.72 51.7,370.72 52.2,370.71 52.7,370.71 53.2,370.71 53.7,370.7 54.2,370.7 54.7,370.69 55.2,370.69 55.7,370.69 56.2,370.68 56.7,370.68 57.2,370.67 57.7,370.67 58.2,370.67 58.7,370.66 59.2,370.66 59.7,370.65 60.2,370.65 60.7,370.64 61.21,370.64 61.71,370.63 62.21,370.62 62.71,370.62 63.21,370.61 63.71,370.6 64.21,370.59 64.71,370.59 65.21,370.58 65.71,370.57 66.21,370.56 66.71,370.55 67.21,370.53 67.71,370.52 68.21,370.5 68.71,370.49 69.21,370.47 69.71,370.45 70.21,370.42 70.71,370.39 71.21,370.36 71.71,370.32 72.21,370.28 72.71,370.22 73.21,370.16 73.71,370.08 74.21,369.98 74.71,369.85 75.21,369.68 75.71,369.46 76.21,369.17 76.71,368.77 77.21,368.21 77.71,367.45 78.21,366.45 78.71,365.33 79.21,364.47 79.71,364.39 80.21,365.15 80.71,366.26 81.21,367.28 81.71,368.08 82.21,368.66 82.71,369.08 83.21,369.39 83.71,369.61 84.21,369.78 84.71,369.91 85.21,370.01 85.71,370.09 86.21,370.15 86.71,370.2 87.21,370.24 87.71,370.27 88.21,370.3 88.71,370.33 89.21,370.35 89.71,370.36 90.21,370.38 90.71,370.39 91.21,370.4 91.71,370.41 92.21,370.42 92.71,370.42 93.21,370.43 93.71,370.43 94.21,370.44 94.71,370.44 95.21,370.44 95.71,370.45 96.21,370.45 96.71,370.45 97.21,370.45 97.71,370.45 98.21,370.45 98.71,370.45 99.21,370.45 99.71,370.45 100.21,370.45 100.71,370.45 101.21,370.45 101.71,370.45 102.22,370.45 102.72,370.45 103.22,370.45 103.72,370.45 104.22,370.45 104.72,370.44 105.22,370.44 105.72,370.44 106.22,370.44 106.72,370.44 107.22,370.44 107.72,370.43 108.22,370.43 108.72,370.43 109.22,370.43 109.72,370.43 110.22,370.43 110.72,370.42 111.22,370.42 111.72,370.42 112.22,370.42 112.72,370.42 113.22,370.41 113.72,370.41 114.22,370.41 114.72,370.41 115.22,370.4 115.72,370.4 116.22,370.4 116.72,370.4 117.22,370.39 117.72,370.39 118.22,370.39 118.72,370.39 119.22,370.38 119.72,370.38 120.22,370.38 120.72,370.38 121.22,370.37 121.72,370.37 122.22,370.37 122.72,370.37 123.22,370.36 123.72,370.36 124.22,370.36 124.72,370.36 125.22,370.35 125.72,370.35 126.22,370.35 126.72,370.34 127.22,370.34 127.72,370.34 128.22,370.34 128.72,370.33 129.22,370.33 129.72,370.33 130.22,370.32 130.72,370.32 131.22,370.32 131.72,370.31 132.22,370.31 132.72,370.31 133.22,370.3 133.72,370.3 134.22,370.3 134.72,370.29 135.22,370.29 135.72,370.28 136.22,370.28 136.72,370.28 137.22,370.27 137.72,370.27 138.22,370.26 138.72,370.26 139.22,370.25 139.72,370.25 140.22,370.24 140.72,370.24 141.22,370.23 141.72,370.23 142.22,370.22 142.72,370.21 143.23,370.21 143.73,370.2 144.23,370.19 144.73,370.18 145.23,370.17 145.73,370.16 146.23,370.15 146.73,370.14 147.23,370.13 147.73,370.11 148.23,370.1 148.73,370.08 149.23,370.06 149.73,370.03 150.23,370.01 150.73,369.97 151.23,369.93 151.73,369.89 152.23,369.83 152.73,369.75 153.23,369.66 153.73,369.54 154.23,369.37 154.73,369.14 155.23,368.81 155.73,368.31 156.23,367.55 156.73,366.36 157.23,364.62 157.73,362.74 158.23,362.2 158.73,363.63 159.23,365.54 159.73,366.98 160.23,367.91 160.73,368.5 161.23,368.87 161.73,369.12 162.23,369.29 162.73,369.41 163.23,369.48 163.73,369.53 164.23,369.55 164.73,369.55 165.23,369.54 165.73,369.5 166.23,369.44 166.73,369.36 167.23,369.23 167.73,369.06 168.23,368.81 168.73,368.45 169.23,367.93 169.73,367.17 170.23,366.14 170.73,364.95 171.23,364.13 171.73,364.31 172.23,365.34 172.73,366.52 173.23,367.47 173.73,368.14 174.23,368.61 174.73,368.94 175.23,369.17 175.73,369.34 176.23,369.46 176.73,369.56 177.23,369.63 177.73,369.69 178.23,369.73 178.73,369.76 179.23,369.79 179.73,369.8 180.23,369.82 180.73,369.82 181.23,369.82 181.73,369.82 182.23,369.8 182.73,369.78 183.23,369.75 183.74,369.7 184.24,369.63 184.74,369.54 185.24,369.45 185.74,369.38 186.24,369.39 186.74,369.45 187.24,369.55 187.74,369.64 188.24,369.71 188.74,369.77 189.24,369.82 189.74,369.85 190.24,369.87 190.74,369.89 191.24,369.9 191.74,369.91 192.24,369.92 192.74,369.92 193.24,369.93 193.74,369.93 194.24,369.93 194.74,369.93 195.24,369.93 195.74,369.93 196.24,369.93 196.74,369.92 197.24,369.92 197.74,369.92 198.24,369.91 198.74,369.91 199.24,369.9 199.74,369.9 200.24,369.89 200.74,369.88 201.24,369.87 201.74,369.86 202.24,369.85 202.74,369.84 203.24,369.82 203.74,369.81 204.24,369.79 204.74,369.77 205.24,369.74 205.74,369.71 206.24,369.67 206.74,369.63 207.24,369.57 207.74,369.51 208.24,369.42 208.74,369.31 209.24,369.16 209.74,368.96 210.24,368.67 210.74,368.26 211.24,367.63 211.74,366.65 212.24,365.14 212.74,363 213.24,360.99 213.74,360.95 214.24,362.92 214.74,365.07 215.24,366.6 215.74,367.59 216.24,368.22 216.74,368.63 217.24,368.92 217.74,369.12 218.24,369.26 218.74,369.37 219.24,369.46 219.74,369.52 220.24,369.57 220.74,369.61 221.24,369.65 221.74,369.67 222.24,369.7 222.74,369.71 223.24,369.73 223.74,369.74 224.24,369.75 224.75,369.76 225.25,369.77 225.75,369.78 226.25,369.78 226.75,369.79 227.25,369.79 227.75,369.79 228.25,369.8 228.75,369.8 229.25,369.8 229.75,369.8 230.25,369.8 230.75,369.8 231.25,369.81 231.75,369.81 232.25,369.81 232.75,369.81 233.25,369.81 233.75,369.8 234.25,369.8 234.75,369.8 235.25,369.8 235.75,369.8 236.25,369.8 236.75,369.8 237.25,369.8 237.75,369.8 238.25,369.8 238.75,369.79 239.25,369.79 239.75,369.79 240.25,369.79 240.75,369.79 241.25,369.79 241.75,369.79 242.25,369.78 242.75,369.78 243.25,369.78 243.75,369.78 244.25,369.78 244.75,369.77 245.25,369.77 245.75,369.77 246.25,369.77 246.75,369.77 247.25,369.76 247.75,369.76 248.25,369.76 248.75,369.76 249.25,369.76 249.75,369.75 250.25,369.75 250.75,369.75 251.25,369.75 251.75,369.75 252.25,369.74 252.75,369.74 253.25,369.74 253.75,369.74 254.25,369.73 254.75,369.73 255.25,369.73 255.75,369.73 256.25,369.73 256.75,369.72 257.25,369.72 257.75,369.72 258.25,369.72 258.75,369.71 259.25,369.71 259.75,369.71 260.25,369.71 260.75,369.7 261.25,369.7 261.75,369.7 262.25,369.7 262.75,369.7 263.25,369.69 263.75,369.69 264.25,369.69 264.75,369.69 265.25,369.68 265.76,369.68 266.26,369.68 266.76,369.68 267.26,369.67 267.76,369.67 268.26,369.67 268.76,369.67 269.26,369.66 269.76,369.66 270.26,369.66 270.76,369.66 271.26,369.65 271.76,369.65 272.26,369.65 272.76,369.65 273.26,369.64 273.76,369.64 274.26,369.64 274.76,369.64 275.26,369.63 275.76,369.63 276.26,369.63 276.76,369.63 277.26,369.62 277.76,369.62 278.26,369.62 278.76,369.62 279.26,369.61 279.76,369.61 280.26,369.61 280.76,369.61 281.26,369.6 281.76,369.6 282.26,369.6 282.76,369.6 283.26,369.59 283.76,369.59 284.26,369.59 284.76,369.58 285.26,369.58 285.76,369.58 286.26,369.58 286.76,369.57 287.26,369.57 287.76,369.57 288.26,369.57 288.76,369.56 289.26,369.56 289.76,369.56 290.26,369.55 290.76,369.55 291.26,369.55 291.76,369.55 292.26,369.54 292.76,369.54 293.26,369.54 293.76,369.53 294.26,369.53 294.76,369.53 295.26,369.52 295.76,369.52 296.26,369.52 296.76,369.51 297.26,369.51 297.76,369.51 298.26,369.5 298.76,369.5 299.26,369.5 299.76,369.49 300.26,369.49 300.76,369.48 301.26,369.48 301.76,369.48 302.26,369.47 302.76,369.47 303.26,369.46 303.76,369.46 304.26,369.45 304.76,369.45 305.26,369.44 305.76,369.43 306.26,369.43 306.77,369.42 307.27,369.41 307.77,369.41 308.27,369.4 308.77,369.39 309.27,369.38 309.77,369.37 310.27,369.35 310.77,369.34 311.27,369.32 311.77,369.3 312.27,369.27 312.77,369.25 313.27,369.21 313.77,369.17 314.27,369.11 314.77,369.04 315.27,368.94 315.77,368.81 316.27,368.61 316.77,368.32 317.27,367.85 317.77,367.03 318.27,365.51 318.77,362.66 319.27,358.9 319.77,359.11 320.27,362.91 320.77,365.64 321.27,367.08 321.77,367.86 322.27,368.3 322.77,368.58 323.27,368.76 323.77,368.88 324.27,368.97 324.77,369.03 325.27,369.08 325.77,369.11 326.27,369.14 326.77,369.15 327.27,369.17 327.77,369.18 328.27,369.18 328.77,369.18 329.27,369.18 329.77,369.17 330.27,369.17 330.77,369.15 331.27,369.13 331.77,369.1 332.27,369.06 332.77,368.99 333.27,368.89 333.77,368.7 334.27,368.32 334.77,367.41 335.27,364.49 335.77,358.04 336.27,363.86 336.77,367.2 337.27,368.2 337.77,368.59 338.27,368.77 338.77,368.86 339.27,368.9 339.77,368.92 340.27,368.91 340.77,368.9 341.27,368.87 341.77,368.83 342.27,368.77 342.77,368.7 343.27,368.6 343.77,368.46 344.27,368.28 344.77,368.03 345.27,367.68 345.77,367.15 346.27,366.33 346.77,364.99 347.28,362.73 347.78,359.01 348.28,354.54 348.78,353.65 349.28,357.63 349.78,361.78 350.28,364.43 350.78,365.99 351.28,366.93 351.78,367.53 352.28,367.93 352.78,368.2 353.28,368.4 353.78,368.54 354.28,368.65 354.78,368.74 355.28,368.8 355.78,368.86 356.28,368.9 356.78,368.93 357.28,368.96 357.78,368.99 358.28,369 358.78,369.02 359.28,369.03 359.78,369.05 360.28,369.06 360.78,369.06 361.28,369.07 361.78,369.08 362.28,369.08 362.78,369.08 363.28,369.09 363.78,369.09 364.28,369.09 364.78,369.09 365.28,369.09 365.78,369.09 366.28,369.09 366.78,369.09 367.28,369.08 367.78,369.08 368.28,369.08 368.78,369.07 369.28,369.07 369.78,369.07 370.28,369.06 370.78,369.05 371.28,369.05 371.78,369.04 372.28,369.03 372.78,369.02 373.28,369.01 373.78,369 374.28,368.99 374.78,368.97 375.28,368.96 375.78,368.94 376.28,368.91 376.78,368.89 377.28,368.86 377.78,368.82 378.28,368.78 378.78,368.73 379.28,368.67 379.78,368.6 380.28,368.51 380.78,368.4 381.28,368.26 381.78,368.08 382.28,367.86 382.78,367.6 383.28,367.29 383.78,366.97 384.28,366.68 384.78,366.51 385.28,366.53 385.78,366.71 386.28,367 386.78,367.32 387.28,367.62 387.78,367.87 388.29,368.08 388.79,368.25 389.29,368.38 389.79,368.48 390.29,368.57 390.79,368.63 391.29,368.69 391.79,368.73 392.29,368.77 392.79,368.8 393.29,368.83 393.79,368.85 394.29,368.87 394.79,368.88 395.29,368.9 395.79,368.91 396.29,368.92 396.79,368.92 397.29,368.93 397.79,368.94 398.29,368.94 398.79,368.95 399.29,368.95 399.79,368.95 400.29,368.96 400.79,368.96 401.29,368.96 401.79,368.96 402.29,368.96 402.79,368.96 403.29,368.96 403.79,368.96 404.29,368.96 404.79,368.96 405.29,368.96 405.79,368.96 406.29,368.96 406.79,368.96 407.29,368.96 407.79,368.96 408.29,368.96 408.79,368.96 409.29,368.96 409.79,368.96 410.29,368.96 410.79,368.95 411.29,368.95 411.79,368.95 412.29,368.95 412.79,368.95 413.29,368.95 413.79,368.95 414.29,368.94 414.79,368.94 415.29,368.94 415.79,368.94 416.29,368.94 416.79,368.94 417.29,368.93 417.79,368.93 418.29,368.93 418.79,368.93 419.29,368.93 419.79,368.92 420.29,368.92 420.79,368.92 421.29,368.92 421.79,368.92 422.29,368.91 422.79,368.91 423.29,368.91 423.79,368.91 424.29,368.91 424.79,368.9 425.29,368.9 425.79,368.9 426.29,368.9 426.79,368.89 427.29,368.89 427.79,368.89 428.29,368.89 428.79,368.89 429.3,368.88 429.8,368.88 430.3,368.88 430.8,368.88 431.3,368.88 431.8,368.87 432.3,368.87 432.8,368.87 433.3,368.87 433.8,368.86 434.3,368.86 434.8,368.86 435.3,368.86 435.8,368.85 436.3,368.85 436.8,368.85 437.3,368.85 437.8,368.85 438.3,368.84 438.8,368.84 439.3,368.84 439.8,368.84 440.3,368.83 440.8,368.83 441.3,368.83 441.8,368.83 442.3,368.83 442.8,368.82 443.3,368.82 443.8,368.82 444.3,368.82 444.8,368.81 445.3,368.81 445.8,368.81 446.3,368.81 446.8,368.8 447.3,368.8 447.8,368.8 448.3,368.8 448.8,368.79 449.3,368.79" fill="none" stroke="#5a5a5a" stroke-width="1.3" stroke-linejoin="round"/>
<text x="79.8" y="362.8" font-family="Liberation Sans, sans-serif" font-weight="bold" font-size="15" fill="#16a016" text-anchor="middle">b</text>
<text x="157" y="360.4" font-family="Liberation Sans, sans-serif" font-weight="bold" font-size="15" fill="#16a016" text-anchor="middle">d</text>
<text x="171.4" y="360.6" font-family="Liberation Sans, sans-serif" font-weight="bold" font-size="15" fill="#16a016" text-anchor="middle">a</text>
<text x="212.8" y="359.4" font-family="Liberation Sans, sans-serif" font-weight="bold" font-size="15" fill="#16a016" text-anchor="middle">c</text>
<text x="318.8" y="356.2" font-family="Liberation Sans, sans-serif" font-weight="bold" font-size="15" fill="#16a016" text-anchor="middle">e</text>
<text x="347.9" y="345.62" font-family="Liberation Sans, sans-serif" font-weight="bold" font-size="15" fill="#16a016" text-anchor="middle">g</text>
<text x="385" y="364" font-family="Liberation Sans, sans-serif" font-weight="bold" font-size="15" fill="#16a016" text-anchor="middle">f</text>
<path d="M33.5,384.5 L33.5,632" fill="none" stroke="#555" stroke-width="1.1"/>
<path d="M33.5,389.4 Q33.5,391.15 31.5,391.15 L27.7,391.15 L27.7,392.05 L31.5,392.05 Q33.5,392.05 33.5,393.8" fill="none" stroke="#555" stroke-width="0.85"/>
<path d="M33.5,398.8 Q33.5,400.55 31.5,400.55 L8.9,400.55 L8.9,401.45 L31.5,401.45 Q33.5,401.45 33.5,403.2" fill="none" stroke="#555" stroke-width="0.85"/>
<path d="M33.5,406 Q33.5,407.75 31.5,407.75 L2.2,407.75 L2.2,408.65 L31.5,408.65 Q33.5,408.65 33.5,410.4" fill="none" stroke="#555" stroke-width="0.85"/>
<path d="M33.5,414.9 Q33.5,416.65 31.5,416.65 L1.1,416.65 L1.1,417.55 L31.5,417.55 Q33.5,417.55 33.5,419.3" fill="none" stroke="#555" stroke-width="0.85"/>
<path d="M33.5,416.3 Q33.5,418.05 31.5,418.05 L13,418.05 L13,418.95 L31.5,418.95 Q33.5,418.95 33.5,420.7" fill="none" stroke="#555" stroke-width="0.85"/>
<path d="M33.5,417.3 Q33.5,419.05 31.5,419.05 L13,419.05 L13,419.95 L31.5,419.95 Q33.5,419.95 33.5,421.7" fill="none" stroke="#555" stroke-width="0.85"/>
<path d="M33.5,418.2 Q33.5,419.95 31.5,419.95 L1.1,419.95 L1.1,420.85 L31.5,420.85 Q33.5,420.85 33.5,422.6" fill="none" stroke="#555" stroke-width="0.85"/>
<path d="M33.5,428.2 Q33.5,429.95 31.5,429.95 L1,429.95 L1,430.85 L31.5,430.85 Q33.5,430.85 33.5,432.6" fill="none" stroke="#555" stroke-width="0.85"/>
<path d="M33.5,430.4 Q33.5,432.15 31.5,432.15 L1,432.15 L1,433.05 L31.5,433.05 Q33.5,433.05 33.5,434.8" fill="none" stroke="#555" stroke-width="0.85"/>
<path d="M33.5,431.3 Q33.5,433.05 31.5,433.05 L15,433.05 L15,433.95 L31.5,433.95 Q33.5,433.95 33.5,435.7" fill="none" stroke="#555" stroke-width="0.85"/>
<path d="M33.5,435.4 Q33.5,437.15 31.5,437.15 L1,437.15 L1,438.05 L31.5,438.05 Q33.5,438.05 33.5,439.8" fill="none" stroke="#555" stroke-width="0.85"/>
<path d="M33.5,438.1 Q33.5,439.85 31.5,439.85 L1,439.85 L1,440.75 L31.5,440.75 Q33.5,440.75 33.5,442.5" fill="none" stroke="#555" stroke-width="0.85"/>
<path d="M33.5,473.8 Q33.5,475.55 31.5,475.55 L31.5,475.55 L31.5,476.45 L31.5,476.45 Q33.5,476.45 33.5,478.2" fill="none" stroke="#555" stroke-width="0.85"/>
<path d="M33.5,497.8 Q33.5,499.55 31.5,499.55 L31.5,499.55 L31.5,500.45 L31.5,500.45 Q33.5,500.45 33.5,502.2" fill="none" stroke="#555" stroke-width="0.85"/>
<path d="M33.5,506.8 Q33.5,508.55 31.5,508.55 L31.5,508.55 L31.5,509.45 L31.5,509.45 Q33.5,509.45 33.5,511.2" fill="none" stroke="#555" stroke-width="0.85"/>
<path d="M33.5,553.8 Q33.5,555.55 31.5,555.55 L27,555.55 L27,556.45 L31.5,556.45 Q33.5,556.45 33.5,558.2" fill="none" stroke="#555" stroke-width="0.85"/>
<path d="M33.5,556.3 Q33.5,558.05 31.5,558.05 L26.5,558.05 L26.5,558.95 L31.5,558.95 Q33.5,558.95 33.5,560.7" fill="none" stroke="#555" stroke-width="0.85"/>
<path d="M33.5,558.3 Q33.5,560.05 31.5,560.05 L26.5,560.05 L26.5,560.95 L31.5,560.95 Q33.5,560.95 33.5,562.7" fill="none" stroke="#555" stroke-width="0.85"/>
<path d="M33.5,560.3 Q33.5,562.05 31.5,562.05 L28,562.05 L28,562.95 L31.5,562.95 Q33.5,562.95 33.5,564.7" fill="none" stroke="#555" stroke-width="0.85"/>
<path d="M33.5,586.5 Q33.5,588.25 31.5,588.25 L31.9,588.25 L31.9,589.15 L31.5,589.15 Q33.5,589.15 33.5,590.9" fill="none" stroke="#555" stroke-width="0.85"/>
<path d="M33.5,598.5 Q33.5,600.25 31.5,600.25 L30.5,600.25 L30.5,601.15 L31.5,601.15 Q33.5,601.15 33.5,602.9" fill="none" stroke="#555" stroke-width="0.85"/>
<path d="M33.5,615.2 Q33.5,616.95 31.5,616.95 L31.9,616.95 L31.9,617.85 L31.5,617.85 Q33.5,617.85 33.5,619.6" fill="none" stroke="#555" stroke-width="0.85"/>
<line x1="41" y1="633.5" x2="449.5" y2="633.5" stroke="#8c8c8c" stroke-width="1.2"/>
<line x1="45.7" y1="631.7" x2="45.7" y2="633.5" stroke="#8c8c8c" stroke-width="1"/>
<line x1="74.05" y1="631.7" x2="74.05" y2="633.5" stroke="#8c8c8c" stroke-width="1"/>
<line x1="102.4" y1="631.7" x2="102.4" y2="633.5" stroke="#8c8c8c" stroke-width="1"/>
<line x1="130.75" y1="631.7" x2="130.75" y2="633.5" stroke="#8c8c8c" stroke-width="1"/>
<line x1="159.1" y1="631.7" x2="159.1" y2="633.5" stroke="#8c8c8c" stroke-width="1"/>
<line x1="187.45" y1="631.7" x2="187.45" y2="633.5" stroke="#8c8c8c" stroke-width="1"/>
<line x1="215.8" y1="631.7" x2="215.8" y2="633.5" stroke="#8c8c8c" stroke-width="1"/>
<line x1="244.15" y1="631.7" x2="244.15" y2="633.5" stroke="#8c8c8c" stroke-width="1"/>
<line x1="272.5" y1="631.7" x2="272.5" y2="633.5" stroke="#8c8c8c" stroke-width="1"/>
<line x1="300.85" y1="631.7" x2="300.85" y2="633.5" stroke="#8c8c8c" stroke-width="1"/>
<line x1="329.2" y1="631.7" x2="329.2" y2="633.5" stroke="#8c8c8c" stroke-width="1"/>
<line x1="357.55" y1="631.7" x2="357.55" y2="633.5" stroke="#8c8c8c" stroke-width="1"/>
<line x1="385.9" y1="631.7" x2="385.9" y2="633.5" stroke="#8c8c8c" stroke-width="1"/>
<line x1="414.25" y1="631.7" x2="414.25" y2="633.5" stroke="#8c8c8c" stroke-width="1"/>
<line x1="442.6" y1="631.7" x2="442.6" y2="633.5" stroke="#8c8c8c" stroke-width="1"/>
<text x="45.7" y="648.5" font-family="Liberation Serif, serif" font-size="9" fill="#555" letter-spacing="-0.25" text-anchor="middle">10.5</text>
<text x="102.4" y="648.5" font-family="Liberation Serif, serif" font-size="9" fill="#555" letter-spacing="-0.25" text-anchor="middle">10.0</text>
<text x="159.1" y="648.5" font-family="Liberation Serif, serif" font-size="9" fill="#555" letter-spacing="-0.25" text-anchor="middle">9.5</text>
<text x="215.8" y="648.5" font-family="Liberation Serif, serif" font-size="9" fill="#555" letter-spacing="-0.25" text-anchor="middle">9.0</text>
<text x="272.5" y="648.5" font-family="Liberation Serif, serif" font-size="9" fill="#555" letter-spacing="-0.25" text-anchor="middle">8.5</text>
<text x="329.2" y="648.5" font-family="Liberation Serif, serif" font-size="9" fill="#555" letter-spacing="-0.25" text-anchor="middle">8.0</text>
<text x="385.9" y="648.5" font-family="Liberation Serif, serif" font-size="9" fill="#555" letter-spacing="-0.25" text-anchor="middle">7.5</text>
<text x="442.6" y="648.5" font-family="Liberation Serif, serif" font-size="9" fill="#555" letter-spacing="-0.25" text-anchor="middle">7.0</text>
<text x="245.5" y="657.5" font-family="Liberation Serif, serif" font-size="9" fill="#555" letter-spacing="-0.2" text-anchor="middle">δ (ppm)</text>
<line x1="452" y1="384.6" x2="452" y2="633.7" stroke="#8c8c8c" stroke-width="1.2"/>
<line x1="452" y1="393.35" x2="453.8" y2="393.35" stroke="#8c8c8c" stroke-width="1"/>
<line x1="452" y1="405.53" x2="453.8" y2="405.53" stroke="#8c8c8c" stroke-width="1"/>
<line x1="452" y1="417.7" x2="453.8" y2="417.7" stroke="#8c8c8c" stroke-width="1"/>
<line x1="452" y1="429.88" x2="453.8" y2="429.88" stroke="#8c8c8c" stroke-width="1"/>
<line x1="452" y1="442.05" x2="453.8" y2="442.05" stroke="#8c8c8c" stroke-width="1"/>
<line x1="452" y1="454.23" x2="453.8" y2="454.23" stroke="#8c8c8c" stroke-width="1"/>
<line x1="452" y1="466.4" x2="453.8" y2="466.4" stroke="#8c8c8c" stroke-width="1"/>
<line x1="452" y1="478.58" x2="453.8" y2="478.58" stroke="#8c8c8c" stroke-width="1"/>
<line x1="452" y1="490.75" x2="453.8" y2="490.75" stroke="#8c8c8c" stroke-width="1"/>
<line x1="452" y1="502.93" x2="453.8" y2="502.93" stroke="#8c8c8c" stroke-width="1"/>
<line x1="452" y1="515.1" x2="453.8" y2="515.1" stroke="#8c8c8c" stroke-width="1"/>
<line x1="452" y1="527.28" x2="453.8" y2="527.28" stroke="#8c8c8c" stroke-width="1"/>
<line x1="452" y1="539.45" x2="453.8" y2="539.45" stroke="#8c8c8c" stroke-width="1"/>
<line x1="452" y1="551.62" x2="453.8" y2="551.62" stroke="#8c8c8c" stroke-width="1"/>
<line x1="452" y1="563.8" x2="453.8" y2="563.8" stroke="#8c8c8c" stroke-width="1"/>
<line x1="452" y1="575.98" x2="453.8" y2="575.98" stroke="#8c8c8c" stroke-width="1"/>
<line x1="452" y1="588.15" x2="453.8" y2="588.15" stroke="#8c8c8c" stroke-width="1"/>
<line x1="452" y1="600.33" x2="453.8" y2="600.33" stroke="#8c8c8c" stroke-width="1"/>
<line x1="452" y1="612.5" x2="453.8" y2="612.5" stroke="#8c8c8c" stroke-width="1"/>
<line x1="452" y1="624.68" x2="453.8" y2="624.68" stroke="#8c8c8c" stroke-width="1"/>
<text x="455.5" y="396.55" font-family="Liberation Serif, serif" font-size="9" fill="#555">1</text>
<text x="455.5" y="420.9" font-family="Liberation Serif, serif" font-size="9" fill="#555">2</text>
<text x="455.5" y="445.25" font-family="Liberation Serif, serif" font-size="9" fill="#555">3</text>
<text x="455.5" y="469.6" font-family="Liberation Serif, serif" font-size="9" fill="#555">4</text>
<text x="455.5" y="493.95" font-family="Liberation Serif, serif" font-size="9" fill="#555">5</text>
<text x="455.5" y="518.3" font-family="Liberation Serif, serif" font-size="9" fill="#555">6</text>
<text x="455.5" y="542.65" font-family="Liberation Serif, serif" font-size="9" fill="#555">7</text>
<text x="455.5" y="567" font-family="Liberation Serif, serif" font-size="9" fill="#555">8</text>
<text x="455.5" y="591.35" font-family="Liberation Serif, serif" font-size="9" fill="#555">9</text>
<text x="455.5" y="615.7" font-family="Liberation Serif, serif" font-size="9" fill="#555">10</text>
<text transform="translate(478,508) rotate(-90)" font-family="Liberation Serif, serif" font-size="9" fill="#555" letter-spacing="-0.2" text-anchor="middle">δ (ppm)</text>
<path d="M40.7,414.9 L155.6,414.9 Q172.6,415.4 180.6,417.6 Q172.6,419.8 155.6,420.3 L40.7,420.3 Z" fill="#ee1c1c"/>
<rect x="64" y="417.1" width="56" height="1" fill="#fff" opacity="0.85"/>
<rect x="126" y="417.1" width="22" height="1" fill="#fff" opacity="0.85"/>
<rect x="152" y="417.5" width="16" height="0.8" fill="#fff" opacity="0.85"/>
<rect x="40.7" y="430.2" width="111.3" height="5.6" fill="#ee1c1c"/>
<rect x="57" y="432.4" width="18" height="1.2" fill="#fff" opacity="0.85"/>
<rect x="110" y="432.4" width="30" height="1.2" fill="#fff" opacity="0.85"/>
<rect x="232" y="415.3" width="217.3" height="5" fill="#2424e8"/>
<rect x="236" y="417.2" width="14" height="1.2" fill="#fff" opacity="0.85"/>
<rect x="255" y="417.3" width="65" height="1" fill="#fff" opacity="0.85"/>
<rect x="335" y="417.15" width="105" height="1.3" fill="#fff" opacity="0.85"/>
<path d="M224,417.8 Q228,415.8 232,415.3 L232,420.3 Q228,419.8 224,417.8 Z" fill="#2424e8"/>
<ellipse cx="218" cy="417.8" rx="0.8" ry="0.8" fill="#2424e8" opacity="1"/>
<ellipse cx="221" cy="417.8" rx="0.8" ry="0.8" fill="#2424e8" opacity="1"/>
<rect x="150" y="430.1" width="299.3" height="6.4" fill="#2424e8"/>
<rect x="188" y="432.65" width="7" height="1.3" fill="#fff" opacity="0.85"/>
<rect x="200" y="432.55" width="7" height="1.5" fill="#fff" opacity="0.85"/>
<rect x="220" y="432.55" width="25" height="1.5" fill="#fff" opacity="0.85"/>
<rect x="258" y="432.65" width="54" height="1.3" fill="#fff" opacity="0.85"/>
<rect x="318" y="432.65" width="114" height="1.3" fill="#fff" opacity="0.85"/>
<rect x="150" y="431.3" width="31.5" height="4" fill="#ee1c1c"/>
<rect x="162" y="432.8" width="14" height="1" fill="#fff" opacity="0.85"/>
<path d="M75,433 L79.5,431.5 L84,433 L79.5,434.5 Z" fill="#2424e8"/>
<path d="M79.5,427.2 L80.8,433 L79.5,438.8 L78.2,433 Z" fill="#2424e8"/>
<ellipse cx="79.5" cy="433" rx="2.8" ry="2.52" fill="#2424e8"/>
<ellipse cx="157.7" cy="433.4" rx="2.6" ry="3" fill="#2424e8" opacity="1"/>
<ellipse cx="157.7" cy="433.4" rx="0.8" ry="0.8" fill="#fff" opacity="1"/>
<path d="M209.3,433.4 L213.8,431.9 L218.3,433.4 L213.8,434.9 Z" fill="#2424e8"/>
<path d="M213.8,425.3 L215.1,433.4 L213.8,441.5 L212.5,433.4 Z" fill="#2424e8"/>
<ellipse cx="213.8" cy="433.4" rx="3.6" ry="3.24" fill="#2424e8"/>
<ellipse cx="211.3" cy="429.8" rx="1.1" ry="1" fill="#ee1c1c" opacity="1"/>
<ellipse cx="216.3" cy="429.8" rx="1.1" ry="1" fill="#ee1c1c" opacity="1"/>
<ellipse cx="211.3" cy="436.6" rx="1.1" ry="1" fill="#ee1c1c" opacity="1"/>
<ellipse cx="216.3" cy="436.6" rx="1.1" ry="1" fill="#ee1c1c" opacity="1"/>
<ellipse cx="171.3" cy="408.6" rx="3" ry="2.5" fill="#2424e8" opacity="1"/>
<ellipse cx="171.3" cy="408.6" rx="0.9" ry="0.7" fill="#fff" opacity="1"/>
<text x="79.6" y="468.9" font-family="Liberation Sans, sans-serif" font-weight="bold" font-size="15" fill="#16a016" text-anchor="middle">b-h</text>
<text x="172" y="468.9" font-family="Liberation Sans, sans-serif" font-weight="bold" font-size="15" fill="#16a016" text-anchor="middle">a-h</text>
<ellipse cx="79.6" cy="475.9" rx="10.6" ry="4.9" fill="none" stroke="#222" stroke-width="1.7" stroke-linecap="round" stroke-dasharray="0.01 2.6"/>
<ellipse cx="172" cy="475.9" rx="10.6" ry="4.9" fill="none" stroke="#222" stroke-width="1.7" stroke-linecap="round" stroke-dasharray="0.01 2.6"/>
<ellipse cx="79.8" cy="476" rx="3.6" ry="2.5" fill="#2424e8" opacity="1"/>
<ellipse cx="79.8" cy="476" rx="1" ry="0.7" fill="#fff" opacity="1"/>
<ellipse cx="172" cy="476" rx="3.6" ry="2.5" fill="#2424e8" opacity="1"/>
<ellipse cx="172" cy="476" rx="1" ry="0.7" fill="#fff" opacity="1"/>
<ellipse cx="158" cy="475.9" rx="0.6" ry="0.6" fill="#2424e8" opacity="1"/>
<ellipse cx="213.7" cy="475.9" rx="1" ry="1.2" fill="#2424e8" opacity="1"/>
<ellipse cx="79.8" cy="497.8" rx="2.3" ry="2.2" fill="#2424e8" opacity="1"/>
<ellipse cx="213.7" cy="497.7" rx="1.4" ry="1.6" fill="#2424e8" opacity="1"/>
<text x="157.4" y="550.2" font-family="Liberation Sans, sans-serif" font-weight="bold" font-size="15" fill="#16a016" text-anchor="middle">d-g</text>
<ellipse cx="158" cy="560.3" rx="10.6" ry="5" fill="none" stroke="#222" stroke-width="1.7" stroke-linecap="round" stroke-dasharray="0.01 2.6"/>
<ellipse cx="158" cy="560.3" rx="2.2" ry="2" fill="#f03030" opacity="1"/>
<text x="58.9" y="597.3" font-family="Liberation Sans, sans-serif" font-weight="bold" font-size="15" fill="#16a016" text-anchor="middle">b-d</text>
<ellipse cx="80.2" cy="600.7" rx="10.6" ry="5" fill="none" stroke="#222" stroke-width="1.7" stroke-linecap="round" stroke-dasharray="0.01 2.6"/>
<ellipse cx="80.2" cy="600.7" rx="3.4" ry="2.5" fill="#2424e8" opacity="1"/>
<ellipse cx="80.2" cy="600.7" rx="1" ry="0.8" fill="#fff" opacity="1"/>
<ellipse cx="99.5" cy="600.7" rx="3" ry="1.6" fill="none" stroke="#2424e8" stroke-width="1.0"/>
<path d="M72,588.7 Q80,592.3 88,588.7 Q80,585.1 72,588.7 Z" fill="none" stroke="#2424e8" stroke-width="1.2"/>
<ellipse cx="79.6" cy="588.7" rx="5" ry="2" fill="#2424e8" opacity="1"/>
<path d="M79.6,585 Q81.6,589 79.6,593 Q77.6,589 79.6,585 Z" fill="#2424e8"/>
<path d="M64,617.4 Q80,622.4 96,617.4 Q80,612.4 64,617.4 Z" fill="none" stroke="#2424e8" stroke-width="1.1"/>
<path d="M68,617.4 Q80,620.6 92,617.4 Q80,614.2 68,617.4 Z" fill="none" stroke="#2424e8" stroke-width="1.0"/>
<ellipse cx="79.6" cy="617.4" rx="7" ry="1.6" fill="#2424e8" opacity="1"/>
<path d="M79.6,612 Q81.8,617.5 79.6,623 Q77.4,617.5 79.6,612 Z" fill="#2424e8"/>
<path d="M128.4,598.3 Q162.25,606.3 196.1,598.3 Q162.25,590.3 128.4,598.3 Z" fill="none" stroke="#2424e8" stroke-width="1.0"/>
<path d="M135,598.3 Q160,604.7 185,598.3 Q160,591.9 135,598.3 Z" fill="none" stroke="#2424e8" stroke-width="1.0"/>
<path d="M142,598.3 Q166,602.7 190,598.3 Q166,593.9 142,598.3 Z" fill="none" stroke="#2424e8" stroke-width="1.0"/>
<path d="M150,598.3 Q171,600.7 192,598.3 Q171,595.9 150,598.3 Z" fill="none" stroke="#2424e8" stroke-width="1.0"/>
<path d="M158,598.3 Q177,604.3 196,598.3 Q177,592.3 158,598.3 Z" fill="none" stroke="#2424e8" stroke-width="1.0"/>
<path d="M165,598.3 Q179.5,602.3 194,598.3 Q179.5,594.3 165,598.3 Z" fill="none" stroke="#2424e8" stroke-width="1.0"/>
<path d="M150,596.6 Q171.72,598.89 193,594 Q171.28,591.71 150,596.6 Z" fill="none" stroke="#2424e8" stroke-width="1.0"/>
<ellipse cx="163" cy="597.5" rx="12" ry="2.6" fill="#2424e8" opacity="0.85"/>
<ellipse cx="126" cy="599.8" rx="0.7" ry="0.7" fill="#2424e8" opacity="1"/>
<ellipse cx="122" cy="597.7" rx="0.7" ry="0.7" fill="#2424e8" opacity="1"/>
<ellipse cx="134.7" cy="605.5" rx="0.8" ry="0.8" fill="#2424e8" opacity="1"/>
<path d="M158,592 Q160.6,607.3 158,622.6 Q155.4,607.3 158,592 Z" fill="#2424e8"/>
<path d="M171.1,589.7 Q173.3,605.15 171.1,620.6 Q168.9,605.15 171.1,589.7 Z" fill="#2424e8"/>
<ellipse cx="157.7" cy="606" rx="1.8" ry="1.7" fill="none" stroke="#2424e8" stroke-width="1.0"/>
<ellipse cx="157.7" cy="610" rx="1.8" ry="1.7" fill="none" stroke="#2424e8" stroke-width="1.0"/>
<ellipse cx="157.7" cy="614" rx="1.8" ry="1.7" fill="none" stroke="#2424e8" stroke-width="1.0"/>
<ellipse cx="157.7" cy="618" rx="1.8" ry="1.7" fill="none" stroke="#2424e8" stroke-width="1.0"/>
<ellipse cx="171.3" cy="606" rx="1.6" ry="2.2" fill="none" stroke="#2424e8" stroke-width="0.9"/>
<ellipse cx="158" cy="589.2" rx="1.8" ry="1.5" fill="none" stroke="#2424e8" stroke-width="1.0"/>
<ellipse cx="171.8" cy="590.4" rx="2" ry="1.6" fill="none" stroke="#2424e8" stroke-width="1.0"/>
<ellipse cx="185.6" cy="589" rx="1.8" ry="1.5" fill="none" stroke="#2424e8" stroke-width="1.0"/>
<ellipse cx="171.1" cy="584.5" rx="1" ry="0.9" fill="#2424e8" opacity="1"/>
<ellipse cx="156" cy="594.3" rx="1.1" ry="1.2" fill="#ee1c1c" opacity="1"/>
<ellipse cx="155.3" cy="604.8" rx="1.1" ry="1.4" fill="#ee1c1c" opacity="1"/>
<path d="M195.4,591.5 Q210.78,595.52 225,588.4 Q209.62,584.38 195.4,591.5 Z" fill="none" stroke="#2424e8" stroke-width="1.0"/>
<path d="M203,589 Q213.59,591.9 224,588.4 Q213.41,585.5 203,589 Z" fill="none" stroke="#2424e8" stroke-width="1.0"/>
<ellipse cx="213.8" cy="588.4" rx="7" ry="1.8" fill="#2424e8" opacity="1"/>
<path d="M213.8,584 Q215.4,590 213.8,596 Q212.2,590 213.8,584 Z" fill="#2424e8"/>
<ellipse cx="213.8" cy="584.6" rx="0.8" ry="0.8" fill="#ee1c1c" opacity="1"/>
<ellipse cx="213.8" cy="600.9" rx="1.8" ry="1.8" fill="none" stroke="#2424e8" stroke-width="1.2"/>
<ellipse cx="202" cy="617.3" rx="2" ry="1.6" fill="none" stroke="#2424e8" stroke-width="1.2"/>
<ellipse cx="213.8" cy="617.3" rx="5" ry="2.5" fill="#2424e8" opacity="1"/>
<path d="M213.8,612 Q215.6,617.3 213.8,622.6 Q212,617.3 213.8,612 Z" fill="#2424e8"/>
<g fill="none" stroke="#2424e8" stroke-width="1.3" stroke-linejoin="round">
<path d="M275.5,566 Q297,562 321,563.5 Q322,567 321,569 Q297,570 275.5,566 Z" stroke-width="1.3"/>
<path d="M279.5,566 Q297,564.2 320,565.2 M284,566.2 L318,566.8"/>
<path d="M285.9,559.6 Q303,557 321,557.5 Q322,560 321,561 Q303,562.5 285.9,559.6 Z"/>
<path d="M291.4,571.4 Q305,568 321,568.5 Q321,571.5 320,572.5 Q305,574 291.4,571.4 Z"/>
<path d="M309.1,552.3 Q314,551 317,552.3 Q314,553.6 309.1,552.3 Z"/>
<path d="M322,551 Q335,548.5 348.9,547.8 Q366,546 384.5,544.5 Q398,543.8 412.3,543.4 Q421,542.5 430.7,541.8 Q431.5,543 430.7,543.6 Q420,547 404.5,553.2 Q397,556 390,558 Q378,561.5 367.8,563.8 Q358,565 351.1,564.8 L322,566 Z" fill="#6a6af0" fill-opacity="0.22" stroke-width="1.5"/>
<path d="M324,555.5 Q350,551.5 384,548.5 Q410,546 428,542.8 M328,560 Q355,557 390,552.5 Q405,549.5 420,546 M350,554.5 Q370,551 400,549 M330,563 Q350,561.5 372,558.5"/>
<path d="M355,557 Q365,556 372,554.5 M395,551 Q405,549.8 414,547.3 M335,553 Q345,551.5 352,550.8 M405,546.5 Q415,545.5 425,543.5"/>
<ellipse cx="358" cy="553" rx="6" ry="2.2"/><ellipse cx="375" cy="551.5" rx="5" ry="2"/><ellipse cx="342" cy="557" rx="5" ry="2.4"/><ellipse cx="400" cy="549.5" rx="5" ry="1.6"/><ellipse cx="420" cy="545" rx="4" ry="1.4"/>
</g>
<g fill="#2424e8">
<path d="M318,554 Q323,550.5 340,549.5 Q360,548 384.5,545.7 Q395,545.1 402,546 Q385,549.5 360,552.5 Q340,555 326,557 Q320,557.5 318,554 Z" opacity="0.8"/>
<path d="M310,566 Q322,563 336,562.5 Q322,568 310,566 Z" opacity="0.7"/>
</g>
<path d="M320,554 Q323,566 320,578 Q317,566 320,554 Z" fill="#2424e8"/>
<path d="M347.3,546.5 Q349.9,565.3 347.3,584.1 Q344.7,565.3 347.3,546.5 Z" fill="#2424e8"/>
<path d="M336.4,560.5 Q338,566.85 336.4,573.2 Q334.8,566.85 336.4,560.5 Z" fill="#2424e8"/>
<path d="M384.5,543.5 Q387.1,549.75 384.5,556 Q381.9,549.75 384.5,543.5 Z" fill="#2424e8"/>
<ellipse cx="320" cy="552.3" rx="3" ry="2.5" fill="none" stroke="#2424e8" stroke-width="1.7"/>
<ellipse cx="384.5" cy="565.6" rx="3.6" ry="2.6" fill="none" stroke="#2424e8" stroke-width="1.8"/>
<ellipse cx="384.5" cy="560.8" rx="1.4" ry="1.4" fill="none" stroke="#2424e8" stroke-width="1.0"/>
<ellipse cx="336.2" cy="562.5" rx="1.8" ry="1.8" fill="none" stroke="#2424e8" stroke-width="1.1"/>
<ellipse cx="317.8" cy="562.3" rx="1.2" ry="1.1" fill="#ee1c1c" opacity="1"/>
<ellipse cx="317.8" cy="571.4" rx="1.2" ry="2" fill="#ee1c1c" opacity="1"/>
<ellipse cx="334.2" cy="566.4" rx="1.4" ry="1.1" fill="#ee1c1c" opacity="1"/>
<ellipse cx="346" cy="566" rx="1.5" ry="1.6" fill="#ee1c1c" opacity="1"/>
<ellipse cx="348.4" cy="600.9" rx="3" ry="2.5" fill="#ee1c1c" opacity="1"/>
<ellipse cx="442.9" cy="539.5" rx="2.4" ry="2" fill="#2424e8" opacity="1"/>
<ellipse cx="264.4" cy="578.2" rx="1.1" ry="1.1" fill="#2424e8" opacity="1"/>
<ellipse cx="348.3" cy="536.7" rx="0.9" ry="1.6" fill="#2424e8" opacity="1"/>
<ellipse cx="320.3" cy="588.4" rx="0.5" ry="0.8" fill="#2424e8" opacity="1"/>
<text x="511.5" y="375" font-family="Liberation Sans, sans-serif" font-weight="bold" font-size="20.5" fill="#111" text-anchor="middle">(d)</text>
<polyline points="565.3,371.68 565.8,371.68 566.3,371.67 566.8,371.67 567.3,371.67 567.8,371.67 568.3,371.66 568.8,371.66 569.3,371.66 569.8,371.65 570.3,371.65 570.8,371.65 571.3,371.65 571.8,371.64 572.3,371.64 572.8,371.64 573.3,371.63 573.8,371.63 574.3,371.63 574.8,371.62 575.3,371.62 575.8,371.62 576.3,371.61 576.8,371.61 577.3,371.6 577.8,371.6 578.3,371.6 578.8,371.59 579.3,371.59 579.8,371.58 580.3,371.58 580.8,371.57 581.3,371.57 581.8,371.56 582.3,371.56 582.8,371.55 583.3,371.54 583.8,371.54 584.3,371.53 584.8,371.52 585.3,371.51 585.8,371.51 586.3,371.5 586.8,371.49 587.3,371.48 587.8,371.46 588.3,371.45 588.8,371.43 589.3,371.42 589.8,371.4 590.3,371.38 590.8,371.35 591.3,371.32 591.8,371.29 592.3,371.25 592.8,371.21 593.3,371.15 593.8,371.09 594.3,371 594.8,370.9 595.3,370.77 595.8,370.6 596.3,370.37 596.8,370.06 597.3,369.64 597.8,369.06 598.3,368.27 598.8,367.25 599.3,366.16 599.8,365.42 600.3,365.51 600.8,366.36 601.3,367.46 601.8,368.43 602.3,369.17 602.8,369.71 603.3,370.1 603.8,370.39 604.3,370.6 604.8,370.75 605.3,370.87 605.8,370.97 606.3,371.04 606.8,371.1 607.3,371.15 607.8,371.19 608.3,371.22 608.8,371.25 609.3,371.27 609.8,371.29 610.3,371.31 610.8,371.32 611.3,371.33 611.8,371.34 612.3,371.35 612.8,371.36 613.3,371.37 613.8,371.37 614.3,371.38 614.8,371.38 615.3,371.38 615.8,371.39 616.3,371.39 616.8,371.39 617.3,371.39 617.8,371.39 618.3,371.4 618.8,371.4 619.3,371.4 619.8,371.4 620.3,371.4 620.8,371.4 621.3,371.4 621.8,371.4 622.3,371.4 622.8,371.4 623.3,371.39 623.8,371.39 624.3,371.39 624.8,371.39 625.3,371.39 625.8,371.39 626.3,371.39 626.8,371.39 627.3,371.39 627.8,371.38 628.3,371.38 628.8,371.38 629.3,371.38 629.8,371.38 630.3,371.38 630.8,371.37 631.3,371.37 631.8,371.37 632.3,371.37 632.8,371.37 633.3,371.36 633.8,371.36 634.3,371.36 634.8,371.36 635.3,371.36 635.8,371.35 636.3,371.35 636.8,371.35 637.3,371.35 637.8,371.35 638.3,371.34 638.8,371.34 639.3,371.34 639.8,371.34 640.3,371.33 640.8,371.33 641.3,371.33 641.8,371.33 642.3,371.33 642.8,371.32 643.3,371.32 643.8,371.32 644.3,371.32 644.8,371.31 645.3,371.31 645.8,371.31 646.3,371.3 646.8,371.3 647.3,371.3 647.8,371.3 648.3,371.29 648.8,371.29 649.3,371.29 649.8,371.29 650.3,371.28 650.8,371.28 651.3,371.28 651.8,371.27 652.3,371.27 652.8,371.27 653.3,371.26 653.8,371.26 654.3,371.26 654.8,371.25 655.3,371.25 655.8,371.25 656.3,371.24 656.8,371.24 657.3,371.23 657.8,371.23 658.3,371.23 658.8,371.22 659.3,371.22 659.8,371.21 660.3,371.21 660.8,371.2 661.3,371.2 661.8,371.19 662.3,371.18 662.8,371.18 663.3,371.17 663.8,371.16 664.3,371.16 664.8,371.15 665.3,371.14 665.8,371.13 666.3,371.12 666.8,371.1 667.3,371.09 667.8,371.08 668.3,371.06 668.8,371.04 669.3,371.02 669.8,371 670.3,370.97 670.8,370.93 671.3,370.89 671.8,370.85 672.3,370.79 672.8,370.71 673.3,370.62 673.8,370.5 674.3,370.33 674.8,370.11 675.3,369.78 675.8,369.31 676.3,368.58 676.8,367.44 677.3,365.72 677.8,363.62 678.3,362.5 678.8,363.6 679.3,365.68 679.8,367.39 680.3,368.51 680.8,369.22 681.3,369.68 681.8,369.98 682.3,370.19 682.8,370.33 683.3,370.42 683.8,370.49 684.3,370.53 684.8,370.54 685.3,370.55 685.8,370.53 686.3,370.5 686.8,370.45 687.3,370.37 687.8,370.25 688.3,370.1 688.8,369.88 689.3,369.56 689.8,369.11 690.3,368.45 690.8,367.52 691.3,366.32 691.8,365.2 692.3,364.86 692.8,365.6 693.3,366.83 693.8,367.94 694.3,368.76 694.8,369.34 695.3,369.73 695.8,370.01 696.3,370.21 696.8,370.36 697.3,370.47 697.8,370.56 698.3,370.62 698.8,370.67 699.3,370.71 699.8,370.73 700.3,370.75 700.8,370.77 701.3,370.77 701.8,370.77 702.3,370.76 702.8,370.74 703.3,370.7 703.8,370.65 704.3,370.59 704.8,370.5 705.3,370.41 705.8,370.36 706.3,370.37 706.8,370.44 707.3,370.54 707.8,370.63 708.3,370.7 708.8,370.76 709.3,370.8 709.8,370.83 710.3,370.86 710.8,370.87 711.3,370.89 711.8,370.9 712.3,370.91 712.8,370.91 713.3,370.92 713.8,370.92 714.3,370.92 714.8,370.92 715.3,370.92 715.8,370.92 716.3,370.92 716.8,370.92 717.3,370.92 717.8,370.92 718.3,370.91 718.8,370.91 719.3,370.91 719.8,370.9 720.3,370.9 720.8,370.89 721.3,370.89 721.8,370.88 722.3,370.87 722.8,370.86 723.3,370.85 723.8,370.84 724.3,370.83 724.8,370.82 725.3,370.8 725.8,370.78 726.3,370.76 726.8,370.74 727.3,370.71 727.8,370.67 728.3,370.63 728.8,370.58 729.3,370.51 729.8,370.43 730.3,370.33 730.8,370.19 731.3,370.01 731.8,369.75 732.3,369.38 732.8,368.82 733.3,367.97 733.8,366.62 734.3,364.64 734.8,362.43 735.3,361.68 735.8,363.26 736.3,365.5 736.8,367.22 737.3,368.34 737.8,369.05 738.3,369.52 738.8,369.84 739.3,370.06 739.8,370.22 740.3,370.34 740.8,370.43 741.3,370.5 741.8,370.55 742.3,370.6 742.8,370.63 743.3,370.66 743.8,370.68 744.3,370.7 744.8,370.72 745.3,370.73 745.8,370.74 746.3,370.75 746.8,370.76 747.3,370.77 747.8,370.78 748.3,370.78 748.8,370.79 749.3,370.79 749.8,370.79 750.3,370.8 750.8,370.8 751.3,370.8 751.8,370.8 752.3,370.8 752.8,370.8 753.3,370.8 753.8,370.8 754.3,370.8 754.8,370.8 755.3,370.8 755.8,370.8 756.3,370.8 756.8,370.8 757.3,370.8 757.8,370.8 758.3,370.8 758.8,370.8 759.3,370.8 759.8,370.8 760.3,370.8 760.8,370.8 761.3,370.79 761.8,370.79 762.3,370.79 762.8,370.79 763.3,370.79 763.8,370.79 764.3,370.79 764.8,370.78 765.3,370.78 765.8,370.78 766.3,370.78 766.8,370.78 767.3,370.78 767.8,370.77 768.3,370.77 768.8,370.77 769.3,370.77 769.8,370.77 770.3,370.76 770.8,370.76 771.3,370.76 771.8,370.76 772.3,370.76 772.8,370.76 773.3,370.75 773.8,370.75 774.3,370.75 774.8,370.75 775.3,370.75 775.8,370.74 776.3,370.74 776.8,370.74 777.3,370.74 777.8,370.74 778.3,370.73 778.8,370.73 779.3,370.73 779.8,370.73 780.3,370.73 780.8,370.72 781.3,370.72 781.8,370.72 782.3,370.72 782.8,370.71 783.3,370.71 783.8,370.71 784.3,370.71 784.8,370.71 785.3,370.7 785.8,370.7 786.3,370.7 786.8,370.7 787.3,370.7 787.8,370.69 788.3,370.69 788.8,370.69 789.3,370.69 789.8,370.68 790.3,370.68 790.8,370.68 791.3,370.68 791.8,370.68 792.3,370.67 792.8,370.67 793.3,370.67 793.8,370.67 794.3,370.66 794.8,370.66 795.3,370.66 795.8,370.66 796.3,370.66 796.8,370.65 797.3,370.65 797.8,370.65 798.3,370.65 798.8,370.64 799.3,370.64 799.8,370.64 800.3,370.64 800.8,370.63 801.3,370.63 801.8,370.63 802.3,370.63 802.8,370.63 803.3,370.62 803.8,370.62 804.3,370.62 804.8,370.62 805.3,370.61 805.8,370.61 806.3,370.61 806.8,370.61 807.3,370.6 807.8,370.6 808.3,370.6 808.8,370.6 809.3,370.59 809.8,370.59 810.3,370.59 810.8,370.59 811.3,370.58 811.8,370.58 812.3,370.58 812.8,370.58 813.3,370.57 813.8,370.57 814.3,370.57 814.8,370.56 815.3,370.56 815.8,370.56 816.3,370.56 816.8,370.55 817.3,370.55 817.8,370.55 818.3,370.55 818.8,370.54 819.3,370.54 819.8,370.54 820.3,370.53 820.8,370.53 821.3,370.53 821.8,370.52 822.3,370.52 822.8,370.52 823.3,370.51 823.8,370.51 824.3,370.51 824.8,370.5 825.3,370.5 825.8,370.49 826.3,370.49 826.8,370.49 827.3,370.48 827.8,370.48 828.3,370.47 828.8,370.47 829.3,370.46 829.8,370.45 830.3,370.45 830.8,370.44 831.3,370.43 831.8,370.42 832.3,370.41 832.8,370.4 833.3,370.39 833.8,370.38 834.3,370.37 834.8,370.35 835.3,370.33 835.8,370.31 836.3,370.28 836.8,370.25 837.3,370.2 837.8,370.15 838.3,370.08 838.8,369.99 839.3,369.87 839.8,369.69 840.3,369.41 840.8,368.98 841.3,368.24 841.8,366.87 842.3,364.29 842.8,360.53 843.3,359.94 843.8,363.57 844.3,366.46 844.8,368 845.3,368.83 845.8,369.3 846.3,369.59 846.8,369.78 847.3,369.91 847.8,370 848.3,370.06 848.8,370.11 849.3,370.14 849.8,370.17 850.3,370.18 850.8,370.2 851.3,370.21 851.8,370.21 852.3,370.21 852.8,370.21 853.3,370.2 853.8,370.19 854.3,370.17 854.8,370.14 855.3,370.1 855.8,370.03 856.3,369.92 856.8,369.74 857.3,369.35 857.8,368.4 858.3,365.33 858.8,359.24 859.3,365.31 859.8,368.37 860.3,369.3 860.8,369.67 861.3,369.84 861.8,369.92 862.3,369.97 862.8,369.99 863.3,369.99 863.8,369.98 864.3,369.95 864.8,369.92 865.3,369.87 865.8,369.81 866.3,369.73 866.8,369.62 867.3,369.48 867.8,369.28 868.3,369 868.8,368.6 869.3,367.99 869.8,367.03 870.3,365.42 870.8,362.7 871.3,358.58 871.8,355.22 872.3,356.87 872.8,361.19 873.3,364.49 873.8,366.48 874.3,367.65 874.8,368.38 875.3,368.85 875.8,369.16 876.3,369.39 876.8,369.55 877.3,369.67 877.8,369.77 878.3,369.84 878.8,369.89 879.3,369.94 879.8,369.98 880.3,370.01 880.8,370.03 881.3,370.05 881.8,370.07 882.3,370.08 882.8,370.1 883.3,370.11 883.8,370.12 884.3,370.12 884.8,370.13 885.3,370.13 885.8,370.14 886.3,370.14 886.8,370.14 887.3,370.14 887.8,370.14 888.3,370.14 888.8,370.14 889.3,370.14 889.8,370.14 890.3,370.14 890.8,370.14 891.3,370.14 891.8,370.13 892.3,370.13 892.8,370.13 893.3,370.12 893.8,370.12 894.3,370.11 894.8,370.11 895.3,370.1 895.8,370.09 896.3,370.08 896.8,370.07 897.3,370.06 897.8,370.05 898.3,370.04 898.8,370.02 899.3,370 899.8,369.98 900.3,369.96 900.8,369.93 901.3,369.9 901.8,369.86 902.3,369.82 902.8,369.76 903.3,369.7 903.8,369.62 904.3,369.52 904.8,369.4 905.3,369.24 905.8,369.05 906.3,368.81 906.8,368.53 907.3,368.21 907.8,367.89 908.3,367.65 908.8,367.55 909.3,367.64 909.8,367.88 910.3,368.2 910.8,368.51 911.3,368.79 911.8,369.03 912.3,369.22 912.8,369.37 913.3,369.49 913.8,369.58 914.3,369.66 914.8,369.72 915.3,369.77 915.8,369.81 916.3,369.85 916.8,369.87 917.3,369.9 917.8,369.92 918.3,369.94 918.8,369.95 919.3,369.96 919.8,369.97 920.3,369.98 920.8,369.99 921.3,370 921.8,370 922.3,370.01 922.8,370.01 923.3,370.02 923.8,370.02 924.3,370.02 924.8,370.02 925.3,370.03 925.8,370.03 926.3,370.03 926.8,370.03 927.3,370.03 927.8,370.03 928.3,370.03 928.8,370.03 929.3,370.03 929.8,370.03 930.3,370.03 930.8,370.03 931.3,370.03 931.8,370.03 932.3,370.03 932.8,370.03 933.3,370.03 933.8,370.02 934.3,370.02 934.8,370.02 935.3,370.02 935.8,370.02 936.3,370.02 936.8,370.02 937.3,370.02 937.8,370.01 938.3,370.01 938.8,370.01 939.3,370.01 939.8,370.01 940.3,370.01 940.8,370.01 941.3,370 941.8,370 942.3,370 942.8,370 943.3,370 943.8,370 944.3,369.99 944.8,369.99 945.3,369.99 945.8,369.99 946.3,369.99 946.8,369.98 947.3,369.98" fill="none" stroke="#5a5a5a" stroke-width="1.3" stroke-linejoin="round"/>
<text x="600.5" y="364" font-family="Liberation Sans, sans-serif" font-weight="bold" font-size="15" fill="#16a016" text-anchor="middle">b</text>
<text x="678.3" y="361.4" font-family="Liberation Sans, sans-serif" font-weight="bold" font-size="15" fill="#16a016" text-anchor="middle">d</text>
<text x="692.2" y="361.4" font-family="Liberation Sans, sans-serif" font-weight="bold" font-size="15" fill="#16a016" text-anchor="middle">a</text>
<text x="735" y="360.2" font-family="Liberation Sans, sans-serif" font-weight="bold" font-size="15" fill="#16a016" text-anchor="middle">c</text>
<text x="842" y="357.9" font-family="Liberation Sans, sans-serif" font-weight="bold" font-size="15" fill="#16a016" text-anchor="middle">e</text>
<text x="870.6" y="346.93" font-family="Liberation Sans, sans-serif" font-weight="bold" font-size="15" fill="#16a016" text-anchor="middle">g</text>
<text x="908.6" y="364.7" font-family="Liberation Sans, sans-serif" font-weight="bold" font-size="15" fill="#16a016" text-anchor="middle">f</text>
<path d="M557.8,388.9 L557.8,632" fill="none" stroke="#555" stroke-width="1.1"/>
<path d="M557.8,387.8 Q557.8,389.55 555.8,389.55 L518.9,389.55 L518.9,390.45 L555.8,390.45 Q557.8,390.45 557.8,392.2" fill="none" stroke="#555" stroke-width="0.85"/>
<path d="M557.8,395.8 Q557.8,397.55 555.8,397.55 L531.3,397.55 L531.3,398.45 L555.8,398.45 Q557.8,398.45 557.8,400.2" fill="none" stroke="#555" stroke-width="0.85"/>
<path d="M557.8,404.3 Q557.8,406.05 555.8,406.05 L518.9,406.05 L518.9,406.95 L555.8,406.95 Q557.8,406.95 557.8,408.7" fill="none" stroke="#555" stroke-width="0.85"/>
<path d="M557.8,405.3 Q557.8,407.05 555.8,407.05 L538,407.05 L538,407.95 L555.8,407.95 Q557.8,407.95 557.8,409.7" fill="none" stroke="#555" stroke-width="0.85"/>
<path d="M557.8,407.3 Q557.8,409.05 555.8,409.05 L548,409.05 L548,409.95 L555.8,409.95 Q557.8,409.95 557.8,411.7" fill="none" stroke="#555" stroke-width="0.85"/>
<path d="M557.8,408.8 Q557.8,410.55 555.8,410.55 L518.9,410.55 L518.9,411.45 L555.8,411.45 Q557.8,411.45 557.8,413.2" fill="none" stroke="#555" stroke-width="0.85"/>
<path d="M557.8,413.8 Q557.8,415.55 555.8,415.55 L551.9,415.55 L551.9,416.45 L555.8,416.45 Q557.8,416.45 557.8,418.2" fill="none" stroke="#555" stroke-width="0.85"/>
<path d="M557.8,418.5 Q557.8,420.25 555.8,420.25 L518.9,420.25 L518.9,421.15 L555.8,421.15 Q557.8,421.15 557.8,422.9" fill="none" stroke="#555" stroke-width="0.85"/>
<path d="M557.8,422.1 Q557.8,423.85 555.8,423.85 L518.9,423.85 L518.9,424.75 L555.8,424.75 Q557.8,424.75 557.8,426.5" fill="none" stroke="#555" stroke-width="0.85"/>
<path d="M557.8,425.6 Q557.8,427.35 555.8,427.35 L524.2,427.35 L524.2,428.25 L555.8,428.25 Q557.8,428.25 557.8,430" fill="none" stroke="#555" stroke-width="0.85"/>
<path d="M557.8,429.2 Q557.8,430.95 555.8,430.95 L521.8,430.95 L521.8,431.85 L555.8,431.85 Q557.8,431.85 557.8,433.6" fill="none" stroke="#555" stroke-width="0.85"/>
<path d="M557.8,442.1 Q557.8,443.85 555.8,443.85 L554,443.85 L554,444.75 L555.8,444.75 Q557.8,444.75 557.8,446.5" fill="none" stroke="#555" stroke-width="0.85"/>
<path d="M557.8,446 Q557.8,447.75 555.8,447.75 L550.7,447.75 L550.7,448.65 L555.8,448.65 Q557.8,448.65 557.8,450.4" fill="none" stroke="#555" stroke-width="0.85"/>
<path d="M557.8,449.8 Q557.8,451.55 555.8,451.55 L554,451.55 L554,452.45 L555.8,452.45 Q557.8,452.45 557.8,454.2" fill="none" stroke="#555" stroke-width="0.85"/>
<path d="M557.8,456.3 Q557.8,458.05 555.8,458.05 L552,458.05 L552,458.95 L555.8,458.95 Q557.8,458.95 557.8,460.7" fill="none" stroke="#555" stroke-width="0.85"/>
<path d="M557.8,467.8 Q557.8,469.55 555.8,469.55 L556,469.55 L556,470.45 L555.8,470.45 Q557.8,470.45 557.8,472.2" fill="none" stroke="#555" stroke-width="0.85"/>
<path d="M557.8,488.8 Q557.8,490.55 555.8,490.55 L556.5,490.55 L556.5,491.45 L555.8,491.45 Q557.8,491.45 557.8,493.2" fill="none" stroke="#555" stroke-width="0.85"/>
<path d="M557.8,553.8 Q557.8,555.55 555.8,555.55 L553.8,555.55 L553.8,556.45 L555.8,556.45 Q557.8,556.45 557.8,558.2" fill="none" stroke="#555" stroke-width="0.85"/>
<path d="M557.8,555.8 Q557.8,557.55 555.8,557.55 L553.5,557.55 L553.5,558.45 L555.8,558.45 Q557.8,558.45 557.8,560.2" fill="none" stroke="#555" stroke-width="0.85"/>
<path d="M557.8,557.8 Q557.8,559.55 555.8,559.55 L554,559.55 L554,560.45 L555.8,560.45 Q557.8,560.45 557.8,562.2" fill="none" stroke="#555" stroke-width="0.85"/>
<path d="M557.8,559.8 Q557.8,561.55 555.8,561.55 L554.5,561.55 L554.5,562.45 L555.8,562.45 Q557.8,562.45 557.8,564.2" fill="none" stroke="#555" stroke-width="0.85"/>
<path d="M557.8,584.4 Q557.8,586.15 555.8,586.15 L556,586.15 L556,587.05 L555.8,587.05 Q557.8,587.05 557.8,588.8" fill="none" stroke="#555" stroke-width="0.85"/>
<path d="M557.8,596.7 Q557.8,598.45 555.8,598.45 L555.3,598.45 L555.3,599.35 L555.8,599.35 Q557.8,599.35 557.8,601.1" fill="none" stroke="#555" stroke-width="0.85"/>
<path d="M557.8,614.5 Q557.8,616.25 555.8,616.25 L556,616.25 L556,617.15 L555.8,617.15 Q557.8,617.15 557.8,618.9" fill="none" stroke="#555" stroke-width="0.85"/>
<line x1="566" y1="634.8" x2="948" y2="634.8" stroke="#8c8c8c" stroke-width="1.2"/>
<line x1="593.12" y1="633" x2="593.12" y2="634.8" stroke="#8c8c8c" stroke-width="1"/>
<line x1="621.9" y1="633" x2="621.9" y2="634.8" stroke="#8c8c8c" stroke-width="1"/>
<line x1="650.67" y1="633" x2="650.67" y2="634.8" stroke="#8c8c8c" stroke-width="1"/>
<line x1="679.45" y1="633" x2="679.45" y2="634.8" stroke="#8c8c8c" stroke-width="1"/>
<line x1="708.22" y1="633" x2="708.22" y2="634.8" stroke="#8c8c8c" stroke-width="1"/>
<line x1="737" y1="633" x2="737" y2="634.8" stroke="#8c8c8c" stroke-width="1"/>
<line x1="765.77" y1="633" x2="765.77" y2="634.8" stroke="#8c8c8c" stroke-width="1"/>
<line x1="794.55" y1="633" x2="794.55" y2="634.8" stroke="#8c8c8c" stroke-width="1"/>
<line x1="823.32" y1="633" x2="823.32" y2="634.8" stroke="#8c8c8c" stroke-width="1"/>
<line x1="852.1" y1="633" x2="852.1" y2="634.8" stroke="#8c8c8c" stroke-width="1"/>
<line x1="880.88" y1="633" x2="880.88" y2="634.8" stroke="#8c8c8c" stroke-width="1"/>
<line x1="909.65" y1="633" x2="909.65" y2="634.8" stroke="#8c8c8c" stroke-width="1"/>
<line x1="938.42" y1="633" x2="938.42" y2="634.8" stroke="#8c8c8c" stroke-width="1"/>
<text x="621.9" y="649" font-family="Liberation Serif, serif" font-size="9" fill="#555" letter-spacing="-0.25" text-anchor="middle">10.0</text>
<text x="679.45" y="649" font-family="Liberation Serif, serif" font-size="9" fill="#555" letter-spacing="-0.25" text-anchor="middle">9.5</text>
<text x="737" y="649" font-family="Liberation Serif, serif" font-size="9" fill="#555" letter-spacing="-0.25" text-anchor="middle">9.0</text>
<text x="794.55" y="649" font-family="Liberation Serif, serif" font-size="9" fill="#555" letter-spacing="-0.25" text-anchor="middle">8.5</text>
<text x="852.1" y="649" font-family="Liberation Serif, serif" font-size="9" fill="#555" letter-spacing="-0.25" text-anchor="middle">8.0</text>
<text x="909.65" y="649" font-family="Liberation Serif, serif" font-size="9" fill="#555" letter-spacing="-0.25" text-anchor="middle">7.5</text>
<text x="760" y="657" font-family="Liberation Serif, serif" font-size="9" fill="#555" letter-spacing="-0.2" text-anchor="middle">δ (ppm)</text>
<line x1="949.7" y1="388.9" x2="949.7" y2="632.6" stroke="#8c8c8c" stroke-width="1.2"/>
<line x1="949.7" y1="394.7" x2="951.5" y2="394.7" stroke="#8c8c8c" stroke-width="1"/>
<line x1="949.7" y1="407.5" x2="951.5" y2="407.5" stroke="#8c8c8c" stroke-width="1"/>
<line x1="949.7" y1="420.3" x2="951.5" y2="420.3" stroke="#8c8c8c" stroke-width="1"/>
<line x1="949.7" y1="433.1" x2="951.5" y2="433.1" stroke="#8c8c8c" stroke-width="1"/>
<line x1="949.7" y1="445.9" x2="951.5" y2="445.9" stroke="#8c8c8c" stroke-width="1"/>
<line x1="949.7" y1="458.7" x2="951.5" y2="458.7" stroke="#8c8c8c" stroke-width="1"/>
<line x1="949.7" y1="471.5" x2="951.5" y2="471.5" stroke="#8c8c8c" stroke-width="1"/>
<line x1="949.7" y1="484.3" x2="951.5" y2="484.3" stroke="#8c8c8c" stroke-width="1"/>
<line x1="949.7" y1="497.1" x2="951.5" y2="497.1" stroke="#8c8c8c" stroke-width="1"/>
<line x1="949.7" y1="509.9" x2="951.5" y2="509.9" stroke="#8c8c8c" stroke-width="1"/>
<line x1="949.7" y1="522.7" x2="951.5" y2="522.7" stroke="#8c8c8c" stroke-width="1"/>
<line x1="949.7" y1="535.5" x2="951.5" y2="535.5" stroke="#8c8c8c" stroke-width="1"/>
<line x1="949.7" y1="548.3" x2="951.5" y2="548.3" stroke="#8c8c8c" stroke-width="1"/>
<line x1="949.7" y1="561.1" x2="951.5" y2="561.1" stroke="#8c8c8c" stroke-width="1"/>
<line x1="949.7" y1="573.9" x2="951.5" y2="573.9" stroke="#8c8c8c" stroke-width="1"/>
<line x1="949.7" y1="586.7" x2="951.5" y2="586.7" stroke="#8c8c8c" stroke-width="1"/>
<line x1="949.7" y1="599.5" x2="951.5" y2="599.5" stroke="#8c8c8c" stroke-width="1"/>
<line x1="949.7" y1="612.3" x2="951.5" y2="612.3" stroke="#8c8c8c" stroke-width="1"/>
<line x1="949.7" y1="625.1" x2="951.5" y2="625.1" stroke="#8c8c8c" stroke-width="1"/>
<text x="953" y="410.7" font-family="Liberation Serif, serif" font-size="9" fill="#555">2</text>
<text x="953" y="436.3" font-family="Liberation Serif, serif" font-size="9" fill="#555">3</text>
<text x="953" y="461.9" font-family="Liberation Serif, serif" font-size="9" fill="#555">4</text>
<text x="953" y="487.5" font-family="Liberation Serif, serif" font-size="9" fill="#555">5</text>
<text x="953" y="513.1" font-family="Liberation Serif, serif" font-size="9" fill="#555">6</text>
<text x="953" y="538.7" font-family="Liberation Serif, serif" font-size="9" fill="#555">7</text>
<text x="953" y="564.3" font-family="Liberation Serif, serif" font-size="9" fill="#555">8</text>
<text x="953" y="589.9" font-family="Liberation Serif, serif" font-size="9" fill="#555">9</text>
<text x="953" y="615.5" font-family="Liberation Serif, serif" font-size="9" fill="#555">10</text>
<text transform="translate(974,510) rotate(-90)" font-family="Liberation Serif, serif" font-size="9" fill="#555" letter-spacing="-0.2" text-anchor="middle">δ (ppm)</text>
<rect x="577.2" y="407.1" width="8.8" height="1.6" rx="0.8" fill="#2424e8"/>
<rect x="590" y="407.2" width="3" height="1.4" rx="0.7" fill="#2424e8"/>
<rect x="596" y="407.1" width="3.5" height="1.6" rx="0.8" fill="#ee1c1c"/>
<rect x="605.5" y="406.7" width="6.1" height="2.4" rx="1.2" fill="#8a2ab0"/>
<rect x="617" y="407.25" width="3" height="1.3" rx="0.65" fill="#2424e8"/>
<rect x="629.8" y="407.2" width="7" height="1.4" rx="0.7" fill="#2424e8"/>
<rect x="639.5" y="407.15" width="7.5" height="1.5" rx="0.75" fill="#ee1c1c"/>
<rect x="652" y="407" width="11" height="1.8" rx="0.9" fill="#6a30c0"/>
<rect x="662" y="406.3" width="19" height="3.2" rx="1.5" fill="#b01858" stroke="#3a2ee0" stroke-width="0.7" stroke-opacity="0.7"/>
<rect x="691.4" y="406.2" width="3.1" height="3.4" rx="1.5" fill="#8a2ab0" stroke="#3a2ee0" stroke-width="0.7" stroke-opacity="0.7"/>
<rect x="697.5" y="406.2" width="27.3" height="3.4" rx="1.5" fill="#cc1040" stroke="#3a2ee0" stroke-width="0.7" stroke-opacity="0.7"/>
<rect x="735.5" y="407.3" width="1" height="1.2" rx="0.6" fill="#ee1c1c"/>
<rect x="749" y="407.3" width="1.5" height="1.2" rx="0.6" fill="#ee1c1c"/>
<rect x="773" y="407.3" width="2" height="1.2" rx="0.6" fill="#ee1c1c"/>
<rect x="780" y="407.3" width="2" height="1.2" rx="0.6" fill="#ee1c1c"/>
<rect x="791.5" y="407.3" width="24.9" height="1.2" rx="0.6" fill="#ee1c1c"/>
<rect x="819" y="407.3" width="2" height="1.2" rx="0.6" fill="#2424e8"/>
<rect x="827" y="407.2" width="10" height="1.4" rx="0.7" fill="#ee1c1c"/>
<rect x="840" y="406.4" width="2.6" height="3" rx="1.5" fill="#8a2ab0" stroke="#3a2ee0" stroke-width="0.7" stroke-opacity="0.7"/>
<rect x="849" y="406.2" width="9" height="3.4" rx="1.5" fill="#b01858" stroke="#3a2ee0" stroke-width="0.7" stroke-opacity="0.7"/>
<rect x="863.5" y="407" width="5.3" height="1.8" rx="0.9" fill="#cc1040"/>
<rect x="876.6" y="405.6" width="31.4" height="4.6" rx="1.5" fill="#cc1040" stroke="#3a2ee0" stroke-width="0.7" stroke-opacity="0.7"/>
<rect x="913.3" y="405.6" width="34" height="4.6" rx="1.5" fill="#cc1040" stroke="#3a2ee0" stroke-width="0.7" stroke-opacity="0.7"/>
<rect x="883" y="406.7" width="6" height="2.4" fill="#4030d0" opacity="0.6"/>
<rect x="898" y="406.7" width="4" height="2.4" fill="#4030d0" opacity="0.6"/>
<rect x="921" y="406.7" width="8" height="2.4" fill="#4030d0" opacity="0.6"/>
<rect x="937.5" y="406.7" width="5" height="2.4" fill="#4030d0" opacity="0.6"/>
<rect x="565" y="422.59999999999997" width="23.5" height="2.2" fill="#ee1c1c"/>
<rect x="588" y="422.4" width="229.7" height="2.6" fill="#2424e8"/>
<ellipse cx="820" cy="423.7" rx="1" ry="0.9" fill="#2424e8" opacity="1"/>
<ellipse cx="824" cy="423.7" rx="1" ry="0.9" fill="#2424e8" opacity="1"/>
<ellipse cx="828" cy="423.7" rx="1" ry="0.9" fill="#2424e8" opacity="1"/>
<ellipse cx="831" cy="423.7" rx="1" ry="0.9" fill="#2424e8" opacity="1"/>
<rect x="916" y="422.8" width="31.3" height="1.8" fill="#ee1c1c"/>
<path d="M594.5,423.7 L600,422.2 L605.5,423.7 L600,425.2 Z" fill="#2424e8"/>
<path d="M600,419.2 L601.3,423.7 L600,428.2 L598.7,423.7 Z" fill="#2424e8"/>
<ellipse cx="600" cy="423.7" rx="3.2" ry="2.88" fill="#2424e8"/>
<ellipse cx="600" cy="423.7" rx="1.6" ry="1.5" fill="#cc1040" opacity="1"/>
<ellipse cx="614" cy="424.1" rx="1.6" ry="0.8" fill="#ee1c1c" opacity="1"/>
<ellipse cx="679.3" cy="423.7" rx="4" ry="3" fill="#b01858" stroke="#3a2ee0" stroke-width="0.8" stroke-opacity="0.75"/>
<ellipse cx="692.5" cy="423.7" rx="5" ry="3.8" fill="#d01850" stroke="#3a2ee0" stroke-width="0.8" stroke-opacity="0.75"/>
<path d="M692.5,416.7 Q694.1,423.7 692.5,430.7 Q690.9,423.7 692.5,416.7 Z" fill="#ee1c1c"/>
<ellipse cx="705.6" cy="423.7" rx="2" ry="1.6" fill="#8a2ab0" opacity="1"/>
<ellipse cx="736" cy="423.7" rx="3" ry="3" fill="#8a2ab0" opacity="1"/>
<path d="M736,418.7 Q737.2,423.7 736,428.7 Q734.8,423.7 736,418.7 Z" fill="#2424e8"/>
<ellipse cx="840.6" cy="423.7" rx="6" ry="3" fill="#cc1040" stroke="#3a2ee0" stroke-width="0.8" stroke-opacity="0.75"/>
<ellipse cx="843.5" cy="423.7" rx="2.8" ry="3" fill="#ee1c1c" opacity="1"/>
<ellipse cx="858.8" cy="423.7" rx="1.5" ry="3" fill="#cc1040" opacity="1"/>
<ellipse cx="878" cy="423.7" rx="9" ry="3.8" fill="#d01040" stroke="#3a2ee0" stroke-width="0.8" stroke-opacity="0.75"/>
<path d="M872,418.7 Q873.5,423.7 872,428.7 Q870.5,423.7 872,418.7 Z" fill="#d01040"/>
<ellipse cx="892" cy="423.7" rx="1.5" ry="1.3" fill="#8a2ab0" opacity="1"/>
<ellipse cx="909.4" cy="423.7" rx="6.5" ry="3.5" fill="#d01040" stroke="#3a2ee0" stroke-width="0.8" stroke-opacity="0.75"/>
<text x="600.5" y="389.7" font-family="Liberation Sans, sans-serif" font-weight="bold" font-size="15" fill="#16a016" text-anchor="middle">b-i</text>
<ellipse cx="600" cy="397.7" rx="10.6" ry="5" fill="none" stroke="#222" stroke-width="1.7" stroke-linecap="round" stroke-dasharray="0.01 2.6"/>
<ellipse cx="600" cy="397.7" rx="1.2" ry="1" fill="#ee1c1c" opacity="1"/>
<text x="692.2" y="389.2" font-family="Liberation Sans, sans-serif" font-weight="bold" font-size="15" fill="#16a016" text-anchor="middle">a-i</text>
<ellipse cx="692.7" cy="397.7" rx="10.6" ry="5" fill="none" stroke="#222" stroke-width="1.7" stroke-linecap="round" stroke-dasharray="0.01 2.6"/>
<ellipse cx="692.7" cy="397.7" rx="3" ry="1.8" fill="#ee1c1c" opacity="1"/>
<text x="600.5" y="461" font-family="Liberation Sans, sans-serif" font-weight="bold" font-size="15" fill="#16a016" text-anchor="middle">b-h</text>
<ellipse cx="600" cy="468.3" rx="10.6" ry="5" fill="none" stroke="#222" stroke-width="1.7" stroke-linecap="round" stroke-dasharray="0.01 2.6"/>
<ellipse cx="600" cy="468.3" rx="2.6" ry="1.7" fill="#ee1c1c" opacity="1"/>
<text x="693.5" y="461" font-family="Liberation Sans, sans-serif" font-weight="bold" font-size="15" fill="#16a016" text-anchor="middle">a-h</text>
<ellipse cx="692.7" cy="468.3" rx="10.6" ry="5" fill="none" stroke="#222" stroke-width="1.7" stroke-linecap="round" stroke-dasharray="0.01 2.6"/>
<ellipse cx="692.7" cy="468.3" rx="1.6" ry="1.2" fill="#ee1c1c" opacity="1"/>
<ellipse cx="600.4" cy="491.5" rx="1.6" ry="1.2" fill="#2424e8" opacity="1"/>
<text x="679.6" y="547.5" font-family="Liberation Sans, sans-serif" font-weight="bold" font-size="15" fill="#16a016" text-anchor="middle">d-g</text>
<ellipse cx="679" cy="556.8" rx="10.6" ry="5" fill="none" stroke="#222" stroke-width="1.7" stroke-linecap="round" stroke-dasharray="0.01 2.6"/>
<ellipse cx="679" cy="556.8" rx="2.2" ry="1.5" fill="#ee1c1c" opacity="1"/>
<text x="583" y="593.5" font-family="Liberation Sans, sans-serif" font-weight="bold" font-size="15" fill="#16a016" text-anchor="middle">b-d</text>
<ellipse cx="600.4" cy="598.9" rx="10.6" ry="5" fill="none" stroke="#222" stroke-width="1.7" stroke-linecap="round" stroke-dasharray="0.01 2.6"/>
<ellipse cx="600.4" cy="598.9" rx="1.5" ry="1.2" fill="#ee1c1c" opacity="1"/>
<ellipse cx="600.4" cy="586.6" rx="2.8" ry="1.8" fill="#2424e8" opacity="1"/>
<path d="M600.4,584.5 Q601.6,587.25 600.4,590 Q599.2,587.25 600.4,584.5 Z" fill="#2424e8"/>
<ellipse cx="620.4" cy="598.9" rx="2.4" ry="1.2" fill="#2424e8" opacity="1"/>
<path d="M584.5,616.7 Q599.05,621.1 613.6,616.7 Q599.05,612.3 584.5,616.7 Z" fill="none" stroke="#2424e8" stroke-width="1.1"/>
<ellipse cx="599.8" cy="616.7" rx="12" ry="2" fill="#2424e8" opacity="0.85"/>
<path d="M599.8,612.5 Q601.8,616.75 599.8,621 Q597.8,616.75 599.8,612.5 Z" fill="#2424e8"/>
<path d="M654.5,598.9 Q662,597.5 669.5,595.6 Q681,593.5 688,591 Q692.8,588.5 696,590.5 Q702,590.8 707.3,591.5 Q713,592.5 716.2,596.1 Q716.5,597 716.2,597.4 Q705,599.2 697,601.5 Q694,604.8 692.8,605.5 Q690.5,603 686,602.5 Q681,603.5 679.5,606.5 Q677,603 669.5,602.3 Q662,601.2 654.5,600.2 Z" fill="#2424e8" fill-opacity="0.75" stroke="#2424e8" stroke-width="1"/>
<g fill="none" stroke="#fff" stroke-width="0.6" opacity="0.8"><ellipse cx="673" cy="599" rx="4" ry="1.2"/><ellipse cx="686" cy="597.5" rx="3.5" ry="1.1"/><ellipse cx="700" cy="596" rx="4" ry="1"/><ellipse cx="709" cy="594.8" rx="3" ry="0.9"/><path d="M658,599.3 L668,599"/></g>
<ellipse cx="707.3" cy="586.7" rx="1.7" ry="1.2" fill="#2424e8" opacity="1"/>
<ellipse cx="713.4" cy="591.7" rx="0.7" ry="0.8" fill="#2424e8" opacity="1"/>
<ellipse cx="656.7" cy="604.5" rx="0.8" ry="0.8" fill="#2424e8" opacity="1"/>
<ellipse cx="678.9" cy="612.6" rx="2" ry="1.5" fill="#2424e8" opacity="1"/>
<ellipse cx="678.9" cy="617" rx="2" ry="1.5" fill="#f04040" opacity="1"/>
<path d="M721.8,586 Q728,584.5 735.7,584 Q742,584.3 746.8,586.7 Q742,589 735.7,589.5 Q728,589.5 721.8,588.5 Z" fill="#2424e8" fill-opacity="0.8" stroke="#2424e8" stroke-width="0.9"/>
<g fill="none" stroke="#fff" stroke-width="0.5" opacity="0.7"><ellipse cx="727" cy="587" rx="3" ry="0.8"/><ellipse cx="741" cy="586.7" rx="3" ry="0.8"/></g>
<ellipse cx="735.7" cy="586.7" rx="3.5" ry="2" fill="#2424e8" opacity="1"/>
<ellipse cx="736.8" cy="583.3" rx="1" ry="0.9" fill="#ee1c1c" opacity="1"/>
<ellipse cx="736.8" cy="589.5" rx="1" ry="0.9" fill="#ee1c1c" opacity="1"/>
<ellipse cx="735.7" cy="592.8" rx="1" ry="0.9" fill="#2424e8" opacity="1"/>
<ellipse cx="724" cy="616.7" rx="1.7" ry="1.2" fill="#2424e8" opacity="1"/>
<ellipse cx="736.2" cy="616.7" rx="3.3" ry="1.8" fill="#2424e8" opacity="1"/>
<path d="M816.5,564.5 Q828,558 842.9,553 Q856,549 871,546.5 Q890,544 908,543.2 Q920,543.3 928.6,544.3 Q929.5,547 927.8,550 Q918,555 908,558 Q890,560 871,562 Q856,564.5 842.9,567.5 Q830,569.5 817.8,569 Q815.5,566.5 816.5,564.5 Z" fill="#2424e8" fill-opacity="0.1" stroke="#2424e8" stroke-width="1.2"/>
<g fill="none" stroke="#2424e8" stroke-width="1.1">
<path d="M817,566.1 Q854.4,566.61 890.6,557.2 Q853.2,556.69 817,566.1 Z"/>
<path d="M817.8,568.2 Q844.88,567.73 871.2,561.3 Q844.12,561.77 817.8,568.2 Z"/>
<path d="M834,558.8 Q875.34,560.6 916.5,556.4 Q875.16,554.6 834,558.8 Z"/>
<path d="M848.5,554 Q889,555.33 928.6,546.7 Q888.1,545.37 848.5,554 Z"/>
<path d="M880,549.1 Q904.2,549.68 927.8,544.3 Q903.6,543.72 880,549.1 Z"/>
<path d="M856.6,552.4 Q880.26,554.15 903.6,549.9 Q879.94,548.15 856.6,552.4 Z"/>
<path d="M822,564 Q841.31,563.88 860,559 Q840.69,559.12 822,564 Z"/>
<path d="M890,551 Q907.7,551.24 925,547.5 Q907.3,547.26 890,551 Z"/>
<path d="M840,561 Q860.22,560.74 880,556.5 Q859.78,556.76 840,561 Z"/>
</g>
<path d="M817,566 Q830,562 845,561 Q830,566.5 818,568.5 Z" fill="#2424e8" opacity="0.7"/>
<path d="M932.7,543.5 Q940.66,543.95 947.2,539.4 Q939.24,538.95 932.7,543.5 Z" fill="none" stroke="#2424e8" stroke-width="1.4"/>
<path d="M842.9,551 Q845.7,561.75 842.9,572.5 Q840.1,561.75 842.9,551 Z" fill="#2424e8"/>
<path d="M871.2,545 Q873.6,557.4 871.2,569.8 Q868.8,557.4 871.2,545 Z" fill="#2424e8"/>
<path d="M908.4,542.5 Q910.8,550.75 908.4,559 Q906,550.75 908.4,542.5 Z" fill="#2424e8"/>
<ellipse cx="871.2" cy="549.5" rx="2" ry="2.2" fill="none" stroke="#2424e8" stroke-width="1.2"/>
<ellipse cx="908.4" cy="545.5" rx="2.5" ry="2" fill="none" stroke="#2424e8" stroke-width="1.2"/>
<ellipse cx="909.2" cy="562.9" rx="3" ry="1.5" fill="#ee1c1c" opacity="1"/>
<ellipse cx="859.9" cy="560.5" rx="1.4" ry="1" fill="#b01858" opacity="1"/>
<ellipse cx="871.8" cy="599.2" rx="3" ry="1.6" fill="#ee1c1c" opacity="1"/>
<ellipse cx="865" cy="542" rx="0.5" ry="0.8" fill="#8080f0" opacity="1"/>
<text x="842.1" y="539.2" font-family="Liberation Sans, sans-serif" font-weight="bold" font-size="15" fill="#16a016" text-anchor="middle">e-f</text>
<text x="819.8" y="554.83" font-family="Liberation Sans, sans-serif" font-weight="bold" font-size="15" fill="#16a016" text-anchor="middle">e-g</text>
<ellipse cx="843.3" cy="547.9" rx="10.9" ry="6" fill="none" stroke="#222" stroke-width="1.7" stroke-linecap="round" stroke-dasharray="0.01 2.6"/>
<ellipse cx="843" cy="557.3" rx="10.6" ry="5.7" fill="none" stroke="#222" stroke-width="1.7" stroke-linecap="round" stroke-dasharray="0.01 2.6"/>
<path d="M842.9,546 Q845.1,553 842.9,560 Q840.7,553 842.9,546 Z" fill="#ee1c1c"/>
<ellipse cx="842.9" cy="548.8" rx="2.2" ry="1.8" fill="#ee1c1c" opacity="1"/>
<ellipse cx="842.9" cy="556.4" rx="2" ry="1.8" fill="#ee1c1c" opacity="1"/>
</g>
</svg>
</body></html>
